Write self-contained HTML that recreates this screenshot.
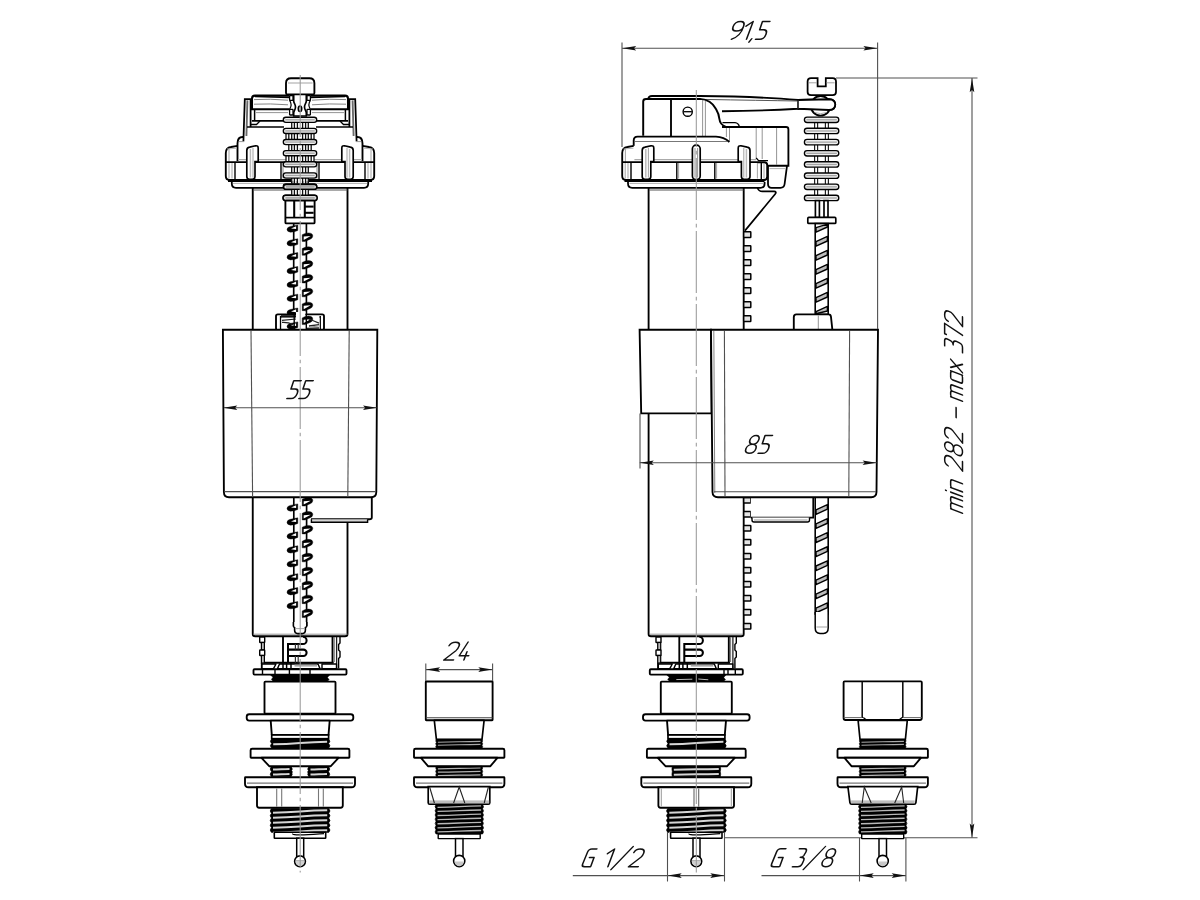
<!DOCTYPE html>
<html><head><meta charset="utf-8"><title>drawing</title>
<style>
html,body{margin:0;padding:0;background:#fff;font-family:"Liberation Sans",sans-serif;}
svg{display:block}
</style></head><body>
<svg width="1200" height="900" viewBox="0 0 1200 900">
<rect width="1200" height="900" fill="#fff"/>
<path d="M252.75,188L252.75,634Q252.75,636.3 255.2,636.3L345,636.3Q347.5,636.3 347.5,634L347.5,188" stroke="#000" stroke-width="1.86" fill="#fff" />
<path d="M253,634.2L347.5,634.2" stroke="#888" stroke-width="0.9" fill="none" />
<path d="M253,190L347.5,190" stroke="#555" stroke-width="1" fill="none" />
<path d="M243.4,141.5L244.8,99.2L250.6,99.2L250.6,127" stroke="#000" stroke-width="1.77" fill="none" />
<path d="M247.4,100.4L246.4,136" stroke="#6a6a6a" stroke-width="1.86" fill="none" />
<path d="M356.6,141.5L355.2,99.2L349.4,99.2L349.4,127" stroke="#000" stroke-width="1.77" fill="none" />
<path d="M352.6,100.4L353.6,136" stroke="#6a6a6a" stroke-width="1.86" fill="none" />
<path d="M289.5,95.6L255,95.6Q252,95.6 252,98.6L252,109.2L289.5,109.2" stroke="#000" stroke-width="2.05" fill="#fff" />
<path d="M310.5,95.6L345,95.6Q348,95.6 348,98.6L348,109.2L310.5,109.2" stroke="#000" stroke-width="2.05" fill="#fff" />
<path d="M255,96.6L290,97.4" stroke="#000" stroke-width="1.49" fill="none" />
<path d="M345,96.6L310,97.4" stroke="#000" stroke-width="1.49" fill="none" />
<path d="M254,99.6Q270,98.6 288,100.2" stroke="#777" stroke-width="0.9" fill="none" />
<path d="M346,99.6Q330,98.6 312,100.2" stroke="#777" stroke-width="0.9" fill="none" />
<path d="M254,104.2Q270,103.4 288,104.8" stroke="#777" stroke-width="0.9" fill="none" />
<path d="M346,104.2Q330,103.4 312,104.8" stroke="#777" stroke-width="0.9" fill="none" />
<path d="M254.6,110L254.6,121" stroke="#000" stroke-width="1.49" fill="none" />
<path d="M345.4,110L345.4,121" stroke="#000" stroke-width="1.49" fill="none" />
<path d="M256,112.6L288,112.6" stroke="#888" stroke-width="0.9" fill="none" />
<path d="M344,112.6L312,112.6" stroke="#888" stroke-width="0.9" fill="none" />
<path d="M252,120.8L286,120.8" stroke="#000" stroke-width="1.67" fill="none" />
<path d="M348,120.8L314,120.8" stroke="#000" stroke-width="1.67" fill="none" />
<path d="M247,127L284,127" stroke="#000" stroke-width="1.67" fill="none" />
<path d="M353,127L316,127" stroke="#000" stroke-width="1.67" fill="none" />
<path d="M251,124.5L256.5,124.5L260,121" stroke="#000" stroke-width="1.3" fill="none" />
<path d="M349,124.5L343.5,124.5L340,121" stroke="#000" stroke-width="1.3" fill="none" />
<path d="M293.7,94.5L293.7,101C293.7,103.5 295.5,104 295.5,107C295.5,110 293.7,110.5 293.7,113L293.7,116L306.3,116L306.3,113C306.3,110.5 304.5,110 304.5,107C304.5,104 306.3,103.5 306.3,101L306.3,94.5" stroke="#000" stroke-width="1.67" fill="#fff" />
<rect x="289.6" y="95.6" width="3.4" height="4.8" rx="0.5" stroke="#000" stroke-width="1.3" fill="#fff"/>
<rect x="307" y="95.6" width="3.4" height="4.8" rx="0.5" stroke="#000" stroke-width="1.3" fill="#fff"/>
<rect x="289.6" y="109.4" width="3.4" height="5.6" rx="0.5" stroke="#000" stroke-width="1.3" fill="#fff"/>
<rect x="307" y="109.4" width="3.4" height="5.6" rx="0.5" stroke="#000" stroke-width="1.3" fill="#fff"/>
<path d="M289.6,100.4Q292.6,104.6 289.6,109.4" stroke="#000" stroke-width="1.2" fill="none" />
<path d="M310.4,100.4Q307.4,104.6 310.4,109.4" stroke="#000" stroke-width="1.2" fill="none" />
<ellipse cx="300" cy="108.8" rx="1.7" ry="2.7" fill="#ddd" stroke="#000" stroke-width="1.6"/>
<path d="M291,78.2L309.4,78.2Q314.4,78.2 314.4,83.2L314.4,92.9Q314.4,94.4 312.9,94.4L287.5,94.4Q286,94.4 286,92.9L286,83.2Q286,78.2 291,78.2Z" stroke="#000" stroke-width="1.86" fill="#fff" />
<path d="M288,83L312.5,83" stroke="#999" stroke-width="0.9" fill="none" />
<path d="M237.5,145.8L231,147Q225.8,147.8 225.8,153L225.8,176Q225.8,180 229.5,180L370.5,180Q374.2,180 374.2,176L374.2,153Q374.2,147.8 369,147L362.5,145.8" stroke="#000" stroke-width="1.86" fill="#fff" />
<path d="M237.5,161L237.5,143.5Q237.5,137 242.6,137L243.6,137" stroke="#000" stroke-width="1.86" fill="none" />
<path d="M362.5,161L362.5,143.5Q362.5,137 357.4,137L356.4,137" stroke="#000" stroke-width="1.86" fill="none" />
<path d="M229,149L229,162" stroke="#999" stroke-width="0.9" fill="none" />
<path d="M371,149L371,162" stroke="#999" stroke-width="0.9" fill="none" />
<path d="M239,141.6L244,141.6" stroke="#999" stroke-width="1" fill="none" />
<path d="M361,141.6L356,141.6" stroke="#999" stroke-width="1" fill="none" />
<path d="M227,149L237,148.2" stroke="#aaa" stroke-width="0.9" fill="none" />
<path d="M373,149L363,148.2" stroke="#aaa" stroke-width="0.9" fill="none" />
<path d="M226,162.2L374,162.2" stroke="#000" stroke-width="1.67" fill="none" />
<path d="M238,159.6L362,159.6" stroke="#aaa" stroke-width="1.2" fill="none" />
<path d="M235,162.2L235,179.5" stroke="#000" stroke-width="1.4" fill="none" />
<path d="M281,162.2L281,179.5" stroke="#000" stroke-width="1.4" fill="none" />
<path d="M319,162.2L319,179.5" stroke="#000" stroke-width="1.4" fill="none" />
<path d="M365,162.2L365,179.5" stroke="#000" stroke-width="1.4" fill="none" />
<path d="M229,163L229,178.5" stroke="#999" stroke-width="0.9" fill="none" />
<path d="M232,163L232,178.5" stroke="#999" stroke-width="0.9" fill="none" />
<path d="M368,163L368,178.5" stroke="#999" stroke-width="0.9" fill="none" />
<path d="M371,163L371,178.5" stroke="#999" stroke-width="0.9" fill="none" />
<path d="M283,163L283,178.5" stroke="#aaa" stroke-width="1.4" fill="none" />
<path d="M317,163L317,178.5" stroke="#aaa" stroke-width="1.4" fill="none" />
<path d="M246.8,176.5L246.8,150.5Q246.8,147.6 249.6,147.1L255.5,145.8Q258.2,145.4 258.2,148.2L258.2,161.5L255,161.5L255,176.5Q255,179.3 252.2,179.3L249.6,179.3Q246.8,179.3 246.8,176.5Z" stroke="#000" stroke-width="1.67" fill="#fff" />
<path d="M250.4,149L250.4,177.5" stroke="#bbb" stroke-width="1.49" fill="none" />
<path d="M253,148L253,177.5" stroke="#999" stroke-width="0.9" fill="none" />
<path d="M353.2,176.5L353.2,150.5Q353.2,147.6 350.4,147.1L344.5,145.8Q341.8,145.4 341.8,148.2L341.8,161.5L345,161.5L345,176.5Q345,179.3 347.8,179.3L350.4,179.3Q353.2,179.3 353.2,176.5Z" stroke="#000" stroke-width="1.67" fill="#fff" />
<path d="M349.6,149L349.6,177.5" stroke="#bbb" stroke-width="1.49" fill="none" />
<path d="M347,148L347,177.5" stroke="#999" stroke-width="0.9" fill="none" />
<path d="M228,181L372,181" stroke="#000" stroke-width="1.86" fill="none" />
<path d="M231.8,182L231.8,183.5Q231.8,187.8 236,187.8L364,187.8Q368.2,187.8 368.2,183.5L368.2,182" stroke="#000" stroke-width="1.77" fill="#fff" />
<path d="M233,183.4L367,183.4" stroke="#999" stroke-width="0.8" fill="none" />
<rect x="291.7" y="122.2" width="16.6" height="6.33" fill="#fff"/>
<path d="M291.7,122.2L291.7,128.53" stroke="#111" stroke-width="1.3" fill="none" />
<path d="M294.4,122.2L294.4,128.53" stroke="#111" stroke-width="1.3" fill="none" />
<path d="M297.4,122.2L297.4,128.53" stroke="#111" stroke-width="1.3" fill="none" />
<path d="M302.6,122.2L302.6,128.53" stroke="#111" stroke-width="1.3" fill="none" />
<path d="M305.6,122.2L305.6,128.53" stroke="#111" stroke-width="1.3" fill="none" />
<path d="M308.3,122.2L308.3,128.53" stroke="#111" stroke-width="1.3" fill="none" />
<rect x="286" y="133.33" width="28" height="6.33" fill="#fff"/>
<path d="M286,133.33L286,139.66" stroke="#111" stroke-width="1.3" fill="none" />
<path d="M288.8,133.33L288.8,139.66" stroke="#111" stroke-width="1.3" fill="none" />
<path d="M291.7,133.33L291.7,139.66" stroke="#111" stroke-width="1.3" fill="none" />
<path d="M294.4,133.33L294.4,139.66" stroke="#111" stroke-width="1.3" fill="none" />
<path d="M297.4,133.33L297.4,139.66" stroke="#111" stroke-width="1.3" fill="none" />
<path d="M302.6,133.33L302.6,139.66" stroke="#111" stroke-width="1.3" fill="none" />
<path d="M305.6,133.33L305.6,139.66" stroke="#111" stroke-width="1.3" fill="none" />
<path d="M308.3,133.33L308.3,139.66" stroke="#111" stroke-width="1.3" fill="none" />
<path d="M311.2,133.33L311.2,139.66" stroke="#111" stroke-width="1.3" fill="none" />
<path d="M314,133.33L314,139.66" stroke="#111" stroke-width="1.3" fill="none" />
<rect x="288.8" y="144.46" width="22.4" height="6.33" fill="#fff"/>
<path d="M288.8,144.46L288.8,150.79" stroke="#111" stroke-width="1.3" fill="none" />
<path d="M291.7,144.46L291.7,150.79" stroke="#111" stroke-width="1.3" fill="none" />
<path d="M294.4,144.46L294.4,150.79" stroke="#111" stroke-width="1.3" fill="none" />
<path d="M297.4,144.46L297.4,150.79" stroke="#111" stroke-width="1.3" fill="none" />
<path d="M302.6,144.46L302.6,150.79" stroke="#111" stroke-width="1.3" fill="none" />
<path d="M305.6,144.46L305.6,150.79" stroke="#111" stroke-width="1.3" fill="none" />
<path d="M308.3,144.46L308.3,150.79" stroke="#111" stroke-width="1.3" fill="none" />
<path d="M311.2,144.46L311.2,150.79" stroke="#111" stroke-width="1.3" fill="none" />
<rect x="286" y="155.59" width="28" height="6.33" fill="#fff"/>
<path d="M286,155.59L286,161.92" stroke="#111" stroke-width="1.3" fill="none" />
<path d="M288.8,155.59L288.8,161.92" stroke="#111" stroke-width="1.3" fill="none" />
<path d="M291.7,155.59L291.7,161.92" stroke="#111" stroke-width="1.3" fill="none" />
<path d="M294.4,155.59L294.4,161.92" stroke="#111" stroke-width="1.3" fill="none" />
<path d="M297.4,155.59L297.4,161.92" stroke="#111" stroke-width="1.3" fill="none" />
<path d="M302.6,155.59L302.6,161.92" stroke="#111" stroke-width="1.3" fill="none" />
<path d="M305.6,155.59L305.6,161.92" stroke="#111" stroke-width="1.3" fill="none" />
<path d="M308.3,155.59L308.3,161.92" stroke="#111" stroke-width="1.3" fill="none" />
<path d="M311.2,155.59L311.2,161.92" stroke="#111" stroke-width="1.3" fill="none" />
<path d="M314,155.59L314,161.92" stroke="#111" stroke-width="1.3" fill="none" />
<rect x="291.7" y="166.72" width="16.6" height="6.33" fill="#fff"/>
<path d="M291.7,166.72L291.7,173.05" stroke="#111" stroke-width="1.3" fill="none" />
<path d="M294.4,166.72L294.4,173.05" stroke="#111" stroke-width="1.3" fill="none" />
<path d="M297.4,166.72L297.4,173.05" stroke="#111" stroke-width="1.3" fill="none" />
<path d="M302.6,166.72L302.6,173.05" stroke="#111" stroke-width="1.3" fill="none" />
<path d="M305.6,166.72L305.6,173.05" stroke="#111" stroke-width="1.3" fill="none" />
<path d="M308.3,166.72L308.3,173.05" stroke="#111" stroke-width="1.3" fill="none" />
<rect x="291.7" y="177.85" width="16.6" height="6.33" fill="#fff"/>
<path d="M291.7,177.85L291.7,184.18" stroke="#111" stroke-width="1.3" fill="none" />
<path d="M294.4,177.85L294.4,184.18" stroke="#111" stroke-width="1.3" fill="none" />
<path d="M297.4,177.85L297.4,184.18" stroke="#111" stroke-width="1.3" fill="none" />
<path d="M302.6,177.85L302.6,184.18" stroke="#111" stroke-width="1.3" fill="none" />
<path d="M305.6,177.85L305.6,184.18" stroke="#111" stroke-width="1.3" fill="none" />
<path d="M308.3,177.85L308.3,184.18" stroke="#111" stroke-width="1.3" fill="none" />
<rect x="291.7" y="188.98" width="16.6" height="6.33" fill="#fff"/>
<path d="M291.7,188.98L291.7,195.31" stroke="#111" stroke-width="1.3" fill="none" />
<path d="M294.4,188.98L294.4,195.31" stroke="#111" stroke-width="1.3" fill="none" />
<path d="M297.4,188.98L297.4,195.31" stroke="#111" stroke-width="1.3" fill="none" />
<path d="M302.6,188.98L302.6,195.31" stroke="#111" stroke-width="1.3" fill="none" />
<path d="M305.6,188.98L305.6,195.31" stroke="#111" stroke-width="1.3" fill="none" />
<path d="M308.3,188.98L308.3,195.31" stroke="#111" stroke-width="1.3" fill="none" />
<rect x="283.3" y="117.2" width="33.4" height="5.2" rx="2.6" stroke="#000" stroke-width="1.35" fill="#efefef"/>
<path d="M285.3,119.8L314.7,119.8" stroke="#a4a4a4" stroke-width="1.3" fill="none" />
<rect x="283.3" y="128.33" width="33.4" height="5.2" rx="2.6" stroke="#000" stroke-width="1.35" fill="#efefef"/>
<path d="M285.3,130.93L314.7,130.93" stroke="#a4a4a4" stroke-width="1.3" fill="none" />
<rect x="283.3" y="139.46" width="33.4" height="5.2" rx="2.6" stroke="#000" stroke-width="1.35" fill="#efefef"/>
<path d="M285.3,142.06L314.7,142.06" stroke="#a4a4a4" stroke-width="1.3" fill="none" />
<rect x="283.3" y="150.59" width="33.4" height="5.2" rx="2.6" stroke="#000" stroke-width="1.35" fill="#efefef"/>
<path d="M285.3,153.19L314.7,153.19" stroke="#a4a4a4" stroke-width="1.3" fill="none" />
<rect x="283.3" y="161.72" width="33.4" height="5.2" rx="2.6" stroke="#000" stroke-width="1.35" fill="#efefef"/>
<path d="M285.3,164.32L314.7,164.32" stroke="#a4a4a4" stroke-width="1.3" fill="none" />
<rect x="283.3" y="172.85" width="33.4" height="5.2" rx="2.6" stroke="#000" stroke-width="1.35" fill="#efefef"/>
<path d="M285.3,175.45L314.7,175.45" stroke="#a4a4a4" stroke-width="1.3" fill="none" />
<rect x="283.3" y="183.98" width="33.4" height="5.2" rx="2.6" stroke="#000" stroke-width="1.35" fill="#efefef"/>
<path d="M285.3,186.58L314.7,186.58" stroke="#a4a4a4" stroke-width="1.3" fill="none" />
<rect x="283.3" y="195.11" width="33.4" height="5.2" rx="2.6" stroke="#000" stroke-width="1.35" fill="#efefef"/>
<path d="M285.3,197.71L314.7,197.71" stroke="#a4a4a4" stroke-width="1.3" fill="none" />
<rect x="291" y="189" width="18" height="7" fill="#fff"/>
<path d="M291.7,189L291.7,196" stroke="#111" stroke-width="1.3" fill="none" />
<path d="M291.7,181L291.7,185" stroke="#111" stroke-width="1.3" fill="none" />
<path d="M294.4,189L294.4,196" stroke="#111" stroke-width="1.3" fill="none" />
<path d="M294.4,181L294.4,185" stroke="#111" stroke-width="1.3" fill="none" />
<path d="M297.4,189L297.4,196" stroke="#111" stroke-width="1.3" fill="none" />
<path d="M297.4,181L297.4,185" stroke="#111" stroke-width="1.3" fill="none" />
<path d="M302.6,189L302.6,196" stroke="#111" stroke-width="1.3" fill="none" />
<path d="M302.6,181L302.6,185" stroke="#111" stroke-width="1.3" fill="none" />
<path d="M305.6,189L305.6,196" stroke="#111" stroke-width="1.3" fill="none" />
<path d="M305.6,181L305.6,185" stroke="#111" stroke-width="1.3" fill="none" />
<path d="M308.3,189L308.3,196" stroke="#111" stroke-width="1.3" fill="none" />
<path d="M308.3,181L308.3,185" stroke="#111" stroke-width="1.3" fill="none" />
<rect x="283.6" y="184.4" width="33.2" height="4.9" rx="2.4" stroke="#000" stroke-width="1.49" fill="#dcdcdc"/>
<path d="M286,186.9L314.5,186.9" stroke="#9a9a9a" stroke-width="1.3" fill="none" />
<rect x="283" y="195.2" width="34.2" height="5.4" rx="2.6" stroke="#000" stroke-width="1.58" fill="#dcdcdc"/>
<path d="M285.5,197.9L314.7,197.9" stroke="#9a9a9a" stroke-width="1.3" fill="none" />
<rect x="285.4" y="200.6" width="29.2" height="22.8" rx="1" stroke="#000" stroke-width="1.86" fill="#fff"/>
<path d="M285.4,217.6L314.6,217.6" stroke="#000" stroke-width="1.67" fill="none" />
<path d="M294.2,201L294.2,217" stroke="#000" stroke-width="2.05" fill="none" />
<path d="M304.8,201L304.8,217" stroke="#000" stroke-width="2.05" fill="none" />
<path d="M304.6,206.6L313.6,206.6" stroke="#000" stroke-width="2.05" fill="none" />
<path d="M304.6,212.8L313.6,212.8" stroke="#000" stroke-width="2.05" fill="none" />
<path d="M293.7,224L293.7,314" stroke="#000" stroke-width="1.67" fill="none" />
<path d="M306.4,224L306.4,314" stroke="#000" stroke-width="1.67" fill="none" />
<path d="M297.8,224.9 L297.8,230.5 Q294.3,232.2 290.5,232.2 Q287,231.8 287,229.6 Q287,227.2 290.3,226.4 Q294.3,225.4 297.8,224.9 Z" fill="#000" stroke="#000" stroke-width="0.4" stroke-linejoin="round"/>
<path d="M291,228.5 L296.1,226.2 L296.1,229.1 Z" fill="#fff" stroke="none"/>
<path d="M297.8,238.75 L297.8,244.35 Q294.3,246.05 290.5,246.05 Q287,245.65 287,243.45 Q287,241.05 290.3,240.25 Q294.3,239.25 297.8,238.75 Z" fill="#000" stroke="#000" stroke-width="0.4" stroke-linejoin="round"/>
<path d="M291,242.35 L296.1,240.05 L296.1,242.95 Z" fill="#fff" stroke="none"/>
<path d="M297.8,252.6 L297.8,258.2 Q294.3,259.9 290.5,259.9 Q287,259.5 287,257.3 Q287,254.9 290.3,254.1 Q294.3,253.1 297.8,252.6 Z" fill="#000" stroke="#000" stroke-width="0.4" stroke-linejoin="round"/>
<path d="M291,256.2 L296.1,253.9 L296.1,256.8 Z" fill="#fff" stroke="none"/>
<path d="M297.8,266.45 L297.8,272.05 Q294.3,273.75 290.5,273.75 Q287,273.35 287,271.15 Q287,268.75 290.3,267.95 Q294.3,266.95 297.8,266.45 Z" fill="#000" stroke="#000" stroke-width="0.4" stroke-linejoin="round"/>
<path d="M291,270.05 L296.1,267.75 L296.1,270.65 Z" fill="#fff" stroke="none"/>
<path d="M297.8,280.3 L297.8,285.9 Q294.3,287.6 290.5,287.6 Q287,287.2 287,285 Q287,282.6 290.3,281.8 Q294.3,280.8 297.8,280.3 Z" fill="#000" stroke="#000" stroke-width="0.4" stroke-linejoin="round"/>
<path d="M291,283.9 L296.1,281.6 L296.1,284.5 Z" fill="#fff" stroke="none"/>
<path d="M297.8,294.15 L297.8,299.75 Q294.3,301.45 290.5,301.45 Q287,301.05 287,298.85 Q287,296.45 290.3,295.65 Q294.3,294.65 297.8,294.15 Z" fill="#000" stroke="#000" stroke-width="0.4" stroke-linejoin="round"/>
<path d="M291,297.75 L296.1,295.45 L296.1,298.35 Z" fill="#fff" stroke="none"/>
<path d="M297.8,308 L297.8,313.6 Q294.3,315.3 290.5,315.3 Q287,314.9 287,312.7 Q287,310.3 290.3,309.5 Q294.3,308.5 297.8,308 Z" fill="#000" stroke="#000" stroke-width="0.4" stroke-linejoin="round"/>
<path d="M291,311.6 L296.1,309.3 L296.1,312.2 Z" fill="#fff" stroke="none"/>
<path d="M302.2,234.7 Q305.2,232.9 308.3,232.9 Q312.8,233 312.8,236.1 Q312.6,238.3 310.2,239.2 L305,241.4 L302.2,241.4 Z" fill="#000" stroke="#000" stroke-width="0.4" stroke-linejoin="round"/>
<path d="M303.7,236.6 L303.7,239.9 L310.7,236.1 Z" fill="#fff" stroke="none"/>
<path d="M302.2,248.55 Q305.2,246.75 308.3,246.75 Q312.8,246.85 312.8,249.95 Q312.6,252.15 310.2,253.05 L305,255.25 L302.2,255.25 Z" fill="#000" stroke="#000" stroke-width="0.4" stroke-linejoin="round"/>
<path d="M303.7,250.45 L303.7,253.75 L310.7,249.95 Z" fill="#fff" stroke="none"/>
<path d="M302.2,262.4 Q305.2,260.6 308.3,260.6 Q312.8,260.7 312.8,263.8 Q312.6,266 310.2,266.9 L305,269.1 L302.2,269.1 Z" fill="#000" stroke="#000" stroke-width="0.4" stroke-linejoin="round"/>
<path d="M303.7,264.3 L303.7,267.6 L310.7,263.8 Z" fill="#fff" stroke="none"/>
<path d="M302.2,276.25 Q305.2,274.45 308.3,274.45 Q312.8,274.55 312.8,277.65 Q312.6,279.85 310.2,280.75 L305,282.95 L302.2,282.95 Z" fill="#000" stroke="#000" stroke-width="0.4" stroke-linejoin="round"/>
<path d="M303.7,278.15 L303.7,281.45 L310.7,277.65 Z" fill="#fff" stroke="none"/>
<path d="M302.2,290.1 Q305.2,288.3 308.3,288.3 Q312.8,288.4 312.8,291.5 Q312.6,293.7 310.2,294.6 L305,296.8 L302.2,296.8 Z" fill="#000" stroke="#000" stroke-width="0.4" stroke-linejoin="round"/>
<path d="M303.7,292 L303.7,295.3 L310.7,291.5 Z" fill="#fff" stroke="none"/>
<path d="M302.2,303.95 Q305.2,302.15 308.3,302.15 Q312.8,302.25 312.8,305.35 Q312.6,307.55 310.2,308.45 L305,310.65 L302.2,310.65 Z" fill="#000" stroke="#000" stroke-width="0.4" stroke-linejoin="round"/>
<path d="M303.7,305.85 L303.7,309.15 L310.7,305.35 Z" fill="#fff" stroke="none"/>
<rect x="276" y="314.4" width="48" height="15.6" rx="1.8" stroke="#000" stroke-width="1.86" fill="#fff"/>
<rect x="296" y="312" width="9.4" height="5" fill="#fff"/>
<path d="M280.6,316L280.6,330" stroke="#000" stroke-width="1.49" fill="none" />
<path d="M320.2,316L320.2,330" stroke="#000" stroke-width="1.49" fill="none" />
<rect x="281.5" y="318" width="38" height="11" fill="#fff"/>
<path d="M297.8,321.9 L297.8,327.5 Q294.3,329.2 290.5,329.2 Q287,328.8 287,326.6 Q287,324.2 290.3,323.4 Q294.3,322.4 297.8,321.9 Z" fill="#000" stroke="#000" stroke-width="0.4" stroke-linejoin="round"/>
<path d="M291,325.5 L296.1,323.2 L296.1,326.1 Z" fill="#fff" stroke="none"/>
<path d="M302.2,317.9 Q305.2,316.1 308.3,316.1 Q312.8,316.2 312.8,319.3 Q312.6,321.5 310.2,322.4 L305,324.6 L302.2,324.6 Z" fill="#000" stroke="#000" stroke-width="0.4" stroke-linejoin="round"/>
<path d="M303.7,319.8 L303.7,323.1 L310.7,319.3 Z" fill="#fff" stroke="none"/>
<path d="M281,316.4L296,316.4" stroke="#111" stroke-width="2.42" fill="none" />
<path d="M282,320.4L296,319M282,322.4Q288,322 293,324.6" stroke="#222" stroke-width="1.2" fill="none" />
<path d="M309,319Q314,321 319,323.2M309,326L319,324.6M306,328.4L319,328" stroke="#222" stroke-width="1.3" fill="none" />
<path d="M310,327L318.6,326" stroke="#999" stroke-width="1.2" fill="none" />
<path d="M294.2,314L294.2,330" stroke="#000" stroke-width="1.4" fill="none" />
<path d="M306.3,314L306.3,330" stroke="#000" stroke-width="1.4" fill="none" />
<path d="M348,497L371.8,497L371.8,517.6Q371.8,519.2 370,519.2L311,519.2" stroke="#000" stroke-width="1.86" fill="#fff" />
<path d="M311.4,519.2L311.4,522.3L367.6,522.3L367.6,519.2" stroke="#000" stroke-width="1.4" fill="#d4d4d4" />
<path d="M293.8,497L293.8,626" stroke="#000" stroke-width="1.67" fill="none" />
<path d="M306.6,497L306.6,626" stroke="#000" stroke-width="1.67" fill="none" />
<path d="M297.8,503.9 L297.8,509.5 Q294.3,511.2 290.5,511.2 Q287,510.8 287,508.6 Q287,506.2 290.3,505.4 Q294.3,504.4 297.8,503.9 Z" fill="#000" stroke="#000" stroke-width="0.4" stroke-linejoin="round"/>
<path d="M291,507.5 L296.1,505.2 L296.1,508.1 Z" fill="#fff" stroke="none"/>
<path d="M297.8,517.85 L297.8,523.45 Q294.3,525.15 290.5,525.15 Q287,524.75 287,522.55 Q287,520.15 290.3,519.35 Q294.3,518.35 297.8,517.85 Z" fill="#000" stroke="#000" stroke-width="0.4" stroke-linejoin="round"/>
<path d="M291,521.45 L296.1,519.15 L296.1,522.05 Z" fill="#fff" stroke="none"/>
<path d="M297.8,531.8 L297.8,537.4 Q294.3,539.1 290.5,539.1 Q287,538.7 287,536.5 Q287,534.1 290.3,533.3 Q294.3,532.3 297.8,531.8 Z" fill="#000" stroke="#000" stroke-width="0.4" stroke-linejoin="round"/>
<path d="M291,535.4 L296.1,533.1 L296.1,536 Z" fill="#fff" stroke="none"/>
<path d="M297.8,545.75 L297.8,551.35 Q294.3,553.05 290.5,553.05 Q287,552.65 287,550.45 Q287,548.05 290.3,547.25 Q294.3,546.25 297.8,545.75 Z" fill="#000" stroke="#000" stroke-width="0.4" stroke-linejoin="round"/>
<path d="M291,549.35 L296.1,547.05 L296.1,549.95 Z" fill="#fff" stroke="none"/>
<path d="M297.8,559.7 L297.8,565.3 Q294.3,567 290.5,567 Q287,566.6 287,564.4 Q287,562 290.3,561.2 Q294.3,560.2 297.8,559.7 Z" fill="#000" stroke="#000" stroke-width="0.4" stroke-linejoin="round"/>
<path d="M291,563.3 L296.1,561 L296.1,563.9 Z" fill="#fff" stroke="none"/>
<path d="M297.8,573.65 L297.8,579.25 Q294.3,580.95 290.5,580.95 Q287,580.55 287,578.35 Q287,575.95 290.3,575.15 Q294.3,574.15 297.8,573.65 Z" fill="#000" stroke="#000" stroke-width="0.4" stroke-linejoin="round"/>
<path d="M291,577.25 L296.1,574.95 L296.1,577.85 Z" fill="#fff" stroke="none"/>
<path d="M297.8,587.6 L297.8,593.2 Q294.3,594.9 290.5,594.9 Q287,594.5 287,592.3 Q287,589.9 290.3,589.1 Q294.3,588.1 297.8,587.6 Z" fill="#000" stroke="#000" stroke-width="0.4" stroke-linejoin="round"/>
<path d="M291,591.2 L296.1,588.9 L296.1,591.8 Z" fill="#fff" stroke="none"/>
<path d="M297.8,601.55 L297.8,607.15 Q294.3,608.85 290.5,608.85 Q287,608.45 287,606.25 Q287,603.85 290.3,603.05 Q294.3,602.05 297.8,601.55 Z" fill="#000" stroke="#000" stroke-width="0.4" stroke-linejoin="round"/>
<path d="M291,605.15 L296.1,602.85 L296.1,605.75 Z" fill="#fff" stroke="none"/>
<path d="M302.2,499.3 Q305.2,497.5 308.3,497.5 Q312.8,497.6 312.8,500.7 Q312.6,502.9 310.2,503.8 L305,506 L302.2,506 Z" fill="#000" stroke="#000" stroke-width="0.4" stroke-linejoin="round"/>
<path d="M303.7,501.2 L303.7,504.5 L310.7,500.7 Z" fill="#fff" stroke="none"/>
<path d="M302.2,513.25 Q305.2,511.45 308.3,511.45 Q312.8,511.55 312.8,514.65 Q312.6,516.85 310.2,517.75 L305,519.95 L302.2,519.95 Z" fill="#000" stroke="#000" stroke-width="0.4" stroke-linejoin="round"/>
<path d="M303.7,515.15 L303.7,518.45 L310.7,514.65 Z" fill="#fff" stroke="none"/>
<path d="M302.2,527.2 Q305.2,525.4 308.3,525.4 Q312.8,525.5 312.8,528.6 Q312.6,530.8 310.2,531.7 L305,533.9 L302.2,533.9 Z" fill="#000" stroke="#000" stroke-width="0.4" stroke-linejoin="round"/>
<path d="M303.7,529.1 L303.7,532.4 L310.7,528.6 Z" fill="#fff" stroke="none"/>
<path d="M302.2,541.15 Q305.2,539.35 308.3,539.35 Q312.8,539.45 312.8,542.55 Q312.6,544.75 310.2,545.65 L305,547.85 L302.2,547.85 Z" fill="#000" stroke="#000" stroke-width="0.4" stroke-linejoin="round"/>
<path d="M303.7,543.05 L303.7,546.35 L310.7,542.55 Z" fill="#fff" stroke="none"/>
<path d="M302.2,555.1 Q305.2,553.3 308.3,553.3 Q312.8,553.4 312.8,556.5 Q312.6,558.7 310.2,559.6 L305,561.8 L302.2,561.8 Z" fill="#000" stroke="#000" stroke-width="0.4" stroke-linejoin="round"/>
<path d="M303.7,557 L303.7,560.3 L310.7,556.5 Z" fill="#fff" stroke="none"/>
<path d="M302.2,569.05 Q305.2,567.25 308.3,567.25 Q312.8,567.35 312.8,570.45 Q312.6,572.65 310.2,573.55 L305,575.75 L302.2,575.75 Z" fill="#000" stroke="#000" stroke-width="0.4" stroke-linejoin="round"/>
<path d="M303.7,570.95 L303.7,574.25 L310.7,570.45 Z" fill="#fff" stroke="none"/>
<path d="M302.2,583 Q305.2,581.2 308.3,581.2 Q312.8,581.3 312.8,584.4 Q312.6,586.6 310.2,587.5 L305,589.7 L302.2,589.7 Z" fill="#000" stroke="#000" stroke-width="0.4" stroke-linejoin="round"/>
<path d="M303.7,584.9 L303.7,588.2 L310.7,584.4 Z" fill="#fff" stroke="none"/>
<path d="M302.2,596.95 Q305.2,595.15 308.3,595.15 Q312.8,595.25 312.8,598.35 Q312.6,600.55 310.2,601.45 L305,603.65 L302.2,603.65 Z" fill="#000" stroke="#000" stroke-width="0.4" stroke-linejoin="round"/>
<path d="M303.7,598.85 L303.7,602.15 L310.7,598.35 Z" fill="#fff" stroke="none"/>
<path d="M302.2,610.9 Q305.2,609.1 308.3,609.1 Q312.8,609.2 312.8,612.3 Q312.6,614.5 310.2,615.4 L305,617.6 L302.2,617.6 Z" fill="#000" stroke="#000" stroke-width="0.4" stroke-linejoin="round"/>
<path d="M303.7,612.8 L303.7,616.1 L310.7,612.3 Z" fill="#fff" stroke="none"/>
<path d="M293.4,622L293.4,626Q293.4,627 294.6,627.6L294.6,630Q294.6,633.6 298,633.6L302,633.6Q305.4,633.6 305.4,630L305.4,627.6Q306.8,627 306.8,626L306.8,622" stroke="#000" stroke-width="1.58" fill="#fff" />
<path d="M295.5,628.6L304.5,628.6" stroke="#999" stroke-width="0.9" fill="none" />
<path d="M222.9,329.8L377.3,329.8L376.3,492Q376.2,497.3 371,497.3L229,497.3Q223.9,497.3 223.9,492Z" stroke="#000" stroke-width="1.86" fill="#fff" />
<path d="M224.5,491.6L376,491.6" stroke="#505050" stroke-width="1.1" fill="none" />
<path d="M251,331L252.6,497" stroke="#505050" stroke-width="1.1" fill="none" />
<path d="M349.2,331L347.8,497" stroke="#505050" stroke-width="1.1" fill="none" />
<rect x="259.7" y="637" width="5" height="5.5" rx="0.5" stroke="#000" stroke-width="1.4" fill="#fff"/>
<rect x="261.4" y="642.5" width="3" height="7.5" rx="0" stroke="#000" stroke-width="1.2" fill="#bbb"/>
<rect x="259.7" y="650" width="5" height="5.5" rx="0.5" stroke="#000" stroke-width="1.4" fill="#fff"/>
<rect x="261.4" y="655.5" width="3" height="7.5" rx="0" stroke="#000" stroke-width="1.2" fill="#bbb"/>
<path d="M261.6,663L261.6,669" stroke="#000" stroke-width="1.49" fill="none" />
<path d="M334.3,637L334.3,662" stroke="#777" stroke-width="1" fill="none" />
<path d="M336.6,637L336.6,669" stroke="#222" stroke-width="1.3" fill="none" />
<path d="M340,637L340,643L338.6,644.5L338.6,650L340,651.5L340,657L338.6,658.5L338.6,668.5" stroke="#000" stroke-width="1.4" fill="none" />
<path d="M283,636L283,663" stroke="#000" stroke-width="1.86" fill="none" />
<path d="M332.5,636L332.5,663" stroke="#000" stroke-width="1.86" fill="none" />
<path d="M264,662.7L333.5,662.7" stroke="#000" stroke-width="1.86" fill="none" />
<path d="M288,643L288,663" stroke="#000" stroke-width="2.05" fill="none" />
<path d="M288,644L303,644A3.6,3.6 0 0 0 303,636.8" stroke="#000" stroke-width="2.05" fill="none" />
<path d="M288,649.6L303.4,649.6A3.2,3.2 0 0 1 303.4,656L288,656" stroke="#000" stroke-width="2.05" fill="none" />
<path d="M295.4,644L295.4,649.6" stroke="#333" stroke-width="1.2" fill="none" />
<path d="M295.4,656L295.4,662.7" stroke="#333" stroke-width="1.2" fill="none" />
<path d="M298.2,644L298.2,649.6" stroke="#333" stroke-width="1.2" fill="none" />
<path d="M298.2,656L298.2,662.7" stroke="#333" stroke-width="1.2" fill="none" />
<path d="M262,664L276,664L273.5,668.6L262,668.6Z" stroke="#000" stroke-width="1.4" fill="#fff" stroke-linejoin="round"/>
<path d="M279.5,664L318,664L320,668.6L277.5,668.6Z" stroke="#000" stroke-width="1.4" fill="#fff" stroke-linejoin="round"/>
<rect x="294.5" y="664.6" width="22.5" height="2" rx="0" stroke="#000" stroke-width="0" fill="#a8a8a8"/>
<path d="M283,663L283,668.6" stroke="#000" stroke-width="1.49" fill="none" />
<path d="M286.6,663L286.6,668.6" stroke="#000" stroke-width="1.49" fill="none" />
<path d="M291,663L291,668.6" stroke="#000" stroke-width="1.49" fill="none" />
<path d="M322,664L336.5,664L336.5,668.6L322,668.6Z" stroke="#000" stroke-width="1.4" fill="#fff" stroke-linejoin="round"/>
<rect x="253.5" y="669.3" width="93" height="5.3" rx="1" stroke="#000" stroke-width="1.86" fill="#fff"/>
<path d="M262.5,669.3L262.5,674.6" stroke="#000" stroke-width="1.4" fill="none" />
<path d="M275,669.3L275,674.6" stroke="#000" stroke-width="1.4" fill="none" />
<path d="M289.4,669.3L289.4,674.6" stroke="#000" stroke-width="1.4" fill="none" />
<path d="M310,669.3L310,674.6" stroke="#000" stroke-width="1.4" fill="none" />
<path d="M270.5,675L329.5,675L327.5,677.5L329.2,679.8L326,682L274,682L271.4,679.4L273,677.3Z" stroke="#000" stroke-width="0.5" fill="#000" stroke-linejoin="round"/>
<rect x="264.5" y="681.6" width="71" height="32" rx="0.8" stroke="#000" stroke-width="1.86" fill="#fff"/>
<rect x="246.7" y="714.2" width="106.6" height="6.4" rx="2.5" stroke="#000" stroke-width="1.86" fill="#fff"/>
<path d="M270.7,720.6L329.7,720.6L328.5,735L271.8,735Z" stroke="#000" stroke-width="1.86" fill="#fff" stroke-linejoin="round"/>
<rect x="271.7" y="735" width="56.9" height="3.7" rx="0" stroke="#000" stroke-width="1.67" fill="#fff"/>
<path d="M271.7,739L328.6,739Q331.2,741.25 328.6,743.5Q331.2,745.75 328.6,748L271.7,748Q269.1,745.75 271.7,743.5Q269.1,741.25 271.7,739Z" stroke="#000" stroke-width="0.6" fill="#000" />
<path d="M273.2,744.3Q285.93,744.2 300.15,743 T327.1,741.7" stroke="#d6d6d6" stroke-width="2.05" fill="none" />
<path d="M252.1,748.7L347.9,748.7Q349.4,748.7 349.4,750.2L349.4,757.3Q349.4,757.8 348.9,757.8L251.1,757.8Q250.6,757.8 250.6,757.3L250.6,750.2Q250.6,748.7 252.1,748.7Z" stroke="#000" stroke-width="1.86" fill="#fff" />
<path d="M261.5,757.8L338.5,757.8L330.8,766.2L269.2,766.2Z" stroke="#000" stroke-width="1.86" fill="#fff" stroke-linejoin="round"/>
<path d="M271.5,766.5L291,766.5Q293.6,769.08 291,771.65Q293.6,774.22 291,776.8L271.5,776.8Q268.9,774.22 271.5,771.65Q268.9,769.08 271.5,766.5Z" stroke="#000" stroke-width="0.6" fill="#000" />
<path d="M273,769.6Q276.38,769.5 281.25,769.3 T289.5,769" stroke="#d6d6d6" stroke-width="2.05" fill="none" />
<path d="M273,774.6Q276.38,774.5 281.25,774.3 T289.5,774" stroke="#d6d6d6" stroke-width="2.05" fill="none" />
<path d="M309,766.5L328.5,766.5Q331.1,769.08 328.5,771.65Q331.1,774.22 328.5,776.8L309,776.8Q306.4,774.22 309,771.65Q306.4,769.08 309,766.5Z" stroke="#000" stroke-width="0.6" fill="#000" />
<path d="M310.5,769.6Q313.88,769.5 318.75,769.3 T327,769" stroke="#d6d6d6" stroke-width="2.05" fill="none" />
<path d="M310.5,774.6Q313.88,774.5 318.75,774.3 T327,774" stroke="#d6d6d6" stroke-width="2.05" fill="none" />
<path d="M288,772L292.5,772" stroke="#000" stroke-width="2.05" fill="none" />
<path d="M307.5,772L312,772" stroke="#000" stroke-width="2.05" fill="none" />
<path d="M245.5,777.3L354.5,777.3Q355,777.3 355,777.8L355,783.7Q355,787.2 351.5,787.2L248.5,787.2Q245,787.2 245,783.7L245,777.8Q245,777.3 245.5,777.3Z" stroke="#000" stroke-width="1.86" fill="#fff" />
<path d="M247,783.2L353,783.2" stroke="#777" stroke-width="1.2" fill="none" />
<path d="M257,787.2L342.8,787.2L342.8,805.6Q342.8,807.8 340.6,807.8L259.2,807.8Q257,807.8 257,805.6L257,787.2Z" stroke="#000" stroke-width="1.86" fill="#fff" />
<path d="M276.7,788.4L276.7,806.8" stroke="#777" stroke-width="1.1" fill="none" />
<path d="M281.7,788.4L281.7,806.8" stroke="#777" stroke-width="1.1" fill="none" />
<path d="M318.5,788.4L318.5,806.8" stroke="#777" stroke-width="1.1" fill="none" />
<path d="M323.3,788.4L323.3,806.8" stroke="#777" stroke-width="1.1" fill="none" />
<path d="M271.5,808.6L328.7,808.6Q331.3,810.98 328.7,813.36Q331.3,815.74 328.7,818.12Q331.3,820.5 328.7,822.88Q331.3,825.26 328.7,827.64Q331.3,830.02 328.7,832.4L271.5,832.4Q268.9,830.02 271.5,827.64Q268.9,825.26 271.5,822.88Q268.9,820.5 271.5,818.12Q268.9,815.74 271.5,813.36Q268.9,810.98 271.5,808.6Z" stroke="#000" stroke-width="0.6" fill="#000" />
<path d="M273,812.7Q285.8,812.6 300.1,811.5 T327.2,810.3" stroke="#d6d6d6" stroke-width="2.05" fill="none" />
<path d="M273,817.7Q285.8,817.6 300.1,816.5 T327.2,815.3" stroke="#d6d6d6" stroke-width="2.05" fill="none" />
<path d="M273,822.7Q285.8,822.6 300.1,821.5 T327.2,820.3" stroke="#d6d6d6" stroke-width="2.05" fill="none" />
<path d="M273,827.7Q285.8,827.6 300.1,826.5 T327.2,825.3" stroke="#d6d6d6" stroke-width="2.05" fill="none" />
<path d="M273,832.7Q285.8,832.6 300.1,831.5 T327.2,830.3" stroke="#d6d6d6" stroke-width="2.05" fill="none" />
<rect x="274.3" y="832.3" width="51.4" height="5.9" rx="0.5" stroke="#000" stroke-width="1.58" fill="#fff"/>
<path d="M293,833.6C291,836 310,834.5 324,833.6" stroke="#000" stroke-width="1.4" fill="none" />
<rect x="296.7" y="838.2" width="7" height="18.8" rx="0" stroke="#000" stroke-width="1.49" fill="#fff"/>
<circle cx="300" cy="861.3" r="5.4" stroke="#000" stroke-width="1.58" fill="#fff"/>
<path d="M295.6,861.6A4.4,4.4 0 0 0 304.4,861.6Z" fill="#d0d0d0"/>
<path d="M295.4,860.8L304.6,860.8" stroke="#888" stroke-width="0.9" fill="none" />
<path d="M300.2,75L300.2,137M300.2,140.7L300.2,144.3M300.2,148L300.2,210M300.2,213.7L300.2,217.3M300.2,221L300.2,283M300.2,286.7L300.2,290.3M300.2,294L300.2,356M300.2,359.7L300.2,363.3M300.2,367L300.2,429M300.2,432.7L300.2,436.3M300.2,440L300.2,502M300.2,505.7L300.2,509.3M300.2,513L300.2,575M300.2,578.7L300.2,582.3M300.2,586L300.2,648M300.2,651.7L300.2,655.3M300.2,659L300.2,721M300.2,724.7L300.2,728.3M300.2,732L300.2,794M300.2,797.7L300.2,801.3M300.2,805L300.2,867M300.2,870.7L300.2,872.5" stroke="#9a9a9a" stroke-width="1.05" fill="none"/>
<path d="M224,407.8L376.5,407.8" stroke="#505050" stroke-width="1.1" fill="none" />
<path d="M223.3,407.8L237.3,405.5L235.1,407.8L237.3,410.1Z" fill="#111" stroke="none"/>
<path d="M377,407.8L363,410.1L365.2,407.8L363,405.5Z" fill="#111" stroke="none"/>
<g transform="translate(286.9,398.8)" fill="none" stroke="#111" stroke-width="1.6" stroke-linecap="round" stroke-linejoin="round">
<path transform="matrix(1,0,0.35,-0.94,0,-0.3)" d="M7.6,19L0.2,19L0.5,10.2L4.6,10.2C7.3,10.2 8.5,8.2 8.5,5.2C8.5,2 7,0 4.3,0L0,0"/>
<path transform="matrix(1,0,0.35,-0.94,12,-0.3)" d="M7.6,19L0.2,19L0.5,10.2L4.6,10.2C7.3,10.2 8.5,8.2 8.5,5.2C8.5,2 7,0 4.3,0L0,0"/>
</g>
<rect x="425.8" y="681.5" width="66.8" height="38.8" rx="0.5" stroke="#000" stroke-width="1.86" fill="#fff"/>
<path d="M425.8,717.8L492.6,717.8" stroke="#444" stroke-width="1.1" fill="none" />
<path d="M434.3,720.3L484.1,720.3L482,739.4L436.4,739.4Z" stroke="#000" stroke-width="1.67" fill="#fff" stroke-linejoin="round"/>
<path d="M436.4,739.4L482,739.4Q483.4,740.87 482,742.33Q483.4,743.8 482,745.27Q483.4,746.73 482,748.2L436.4,748.2Q435,746.73 436.4,745.27Q435,743.8 436.4,742.33Q435,740.87 436.4,739.4Z" stroke="#000" stroke-width="0.6" fill="#000" />
<path d="M437.9,742.2Q447.8,742.1 459.2,741.8 T480.5,741.4" stroke="#aaa" stroke-width="1.1" fill="none" />
<path d="M437.9,745.2Q447.8,745.1 459.2,744.8 T480.5,744.4" stroke="#aaa" stroke-width="1.1" fill="none" />
<path d="M415.5,748.7L502.9,748.7Q504.4,748.7 504.4,750.2L504.4,757.3Q504.4,757.8 503.9,757.8L414.5,757.8Q414,757.8 414,757.3L414,750.2Q414,748.7 415.5,748.7Z" stroke="#000" stroke-width="1.86" fill="#fff" />
<path d="M421,757.8L497.4,757.8L490.4,766.2L428,766.2Z" stroke="#000" stroke-width="1.86" fill="#fff" stroke-linejoin="round"/>
<path d="M436.4,766.2L482,766.2Q483.4,767.93 482,769.67Q483.4,771.4 482,773.13Q483.4,774.87 482,776.6L436.4,776.6Q435,774.87 436.4,773.13Q435,771.4 436.4,769.67Q435,767.93 436.4,766.2Z" stroke="#000" stroke-width="0.6" fill="#000" />
<path d="M437.9,768.8Q447.8,768.7 459.2,768.4 T480.5,768" stroke="#b4b4b4" stroke-width="1.25" fill="none" />
<path d="M437.9,772.2Q447.8,772.1 459.2,771.8 T480.5,771.4" stroke="#b4b4b4" stroke-width="1.25" fill="none" />
<path d="M437.9,775.6Q447.8,775.5 459.2,775.2 T480.5,774.8" stroke="#b4b4b4" stroke-width="1.25" fill="none" />
<path d="M414.5,777.3L503.9,777.3Q504.4,777.3 504.4,777.8L504.4,783.7Q504.4,787.2 500.9,787.2L417.5,787.2Q414,787.2 414,783.7L414,777.8Q414,777.3 414.5,777.3Z" stroke="#000" stroke-width="1.86" fill="#fff" />
<path d="M416,783.2L502.4,783.2" stroke="#777" stroke-width="1.2" fill="none" />
<path d="M428.2,786.6L489.8,786.6L489.8,802.7Q489.8,804.2 488.3,804.2L429.7,804.2Q428.2,804.2 428.2,802.7L428.2,786.6Z" stroke="#000" stroke-width="1.67" fill="#fff" />
<rect x="429.2" y="800.4" width="60" height="3" fill="#bdbdbd"/>
<path d="M429.6,787L434.4,803" stroke="#222" stroke-width="1.1" fill="none" />
<path d="M453.6,803L459.2,787L464.8,803" stroke="#222" stroke-width="1.1" fill="none" />
<path d="M488.4,787L484.2,803" stroke="#222" stroke-width="1.1" fill="none" />
<path d="M436,804.4L482.6,804.4Q484.4,806.51 482.6,808.63Q484.4,810.74 482.6,812.86Q484.4,814.97 482.6,817.09Q484.4,819.2 482.6,821.31Q484.4,823.43 482.6,825.54Q484.4,827.66 482.6,829.77Q484.4,831.89 482.6,834L436,834Q434.2,831.89 436,829.77Q434.2,827.66 436,825.54Q434.2,823.43 436,821.31Q434.2,819.2 436,817.09Q434.2,814.97 436,812.86Q434.2,810.74 436,808.63Q434.2,806.51 436,804.4Z" stroke="#000" stroke-width="0.6" fill="#000" />
<path d="M437.5,807.3Q447.65,807.2 459.3,806.6 T481.1,805.9" stroke="#b8b8b8" stroke-width="1.35" fill="none" />
<path d="M437.5,811.4Q447.65,811.3 459.3,810.7 T481.1,810" stroke="#b8b8b8" stroke-width="1.35" fill="none" />
<path d="M437.5,815.5Q447.65,815.4 459.3,814.8 T481.1,814.1" stroke="#b8b8b8" stroke-width="1.35" fill="none" />
<path d="M437.5,819.6Q447.65,819.5 459.3,818.9 T481.1,818.2" stroke="#b8b8b8" stroke-width="1.35" fill="none" />
<path d="M437.5,823.7Q447.65,823.6 459.3,823 T481.1,822.3" stroke="#b8b8b8" stroke-width="1.35" fill="none" />
<path d="M437.5,827.8Q447.65,827.7 459.3,827.1 T481.1,826.4" stroke="#b8b8b8" stroke-width="1.35" fill="none" />
<path d="M437.5,831.9Q447.65,831.8 459.3,831.2 T481.1,830.5" stroke="#b8b8b8" stroke-width="1.35" fill="none" />
<rect x="438.2" y="834" width="42" height="4.6" rx="0.3" stroke="#000" stroke-width="1.4" fill="#fff"/>
<rect x="455.5" y="838.6" width="7.5" height="17.9" rx="0" stroke="#000" stroke-width="1.49" fill="#fff"/>
<circle cx="459.2" cy="861" r="5.6" stroke="#000" stroke-width="1.58" fill="#fff"/>
<path d="M454.6,861.6A4.6,4.6 0 0 0 463.8,861.6Z" fill="#c8c8c8"/>
<path d="M425.8,663.5L425.8,681" stroke="#505050" stroke-width="1.1" fill="none" />
<path d="M492.6,663.5L492.6,681" stroke="#505050" stroke-width="1.1" fill="none" />
<path d="M426,669.6L492.5,669.6" stroke="#505050" stroke-width="1.1" fill="none" />
<path d="M426.1,669.6L440.1,667.3L437.9,669.6L440.1,671.9Z" fill="#111" stroke="none"/>
<path d="M492.3,669.6L478.3,671.9L480.5,669.6L478.3,667.3Z" fill="#111" stroke="none"/>
<g transform="translate(443.8,660.3)" fill="none" stroke="#111" stroke-width="1.6" stroke-linecap="round" stroke-linejoin="round">
<path transform="matrix(1,0,0.35,-0.94,0,-0.3)" d="M0,15.2C0.5,18 2.5,19 5,19C8.1,19 10.1,17.5 10.1,14.8C10.1,13 9.8,11.5 8.8,10.2L0,0L9.7,0"/>
<path transform="matrix(1,0,0.35,-0.94,13.7,-0.3)" d="M3.9,19L0.2,4.6L9.6,4.6M6.4,8.8L6.4,0"/>
</g>
<path d="M648.6,188L648.6,634Q648.6,636.3 651,636.3L741.2,636.3Q743.7,636.3 743.7,634L743.7,188" stroke="#000" stroke-width="1.86" fill="#fff" />
<path d="M649.5,634.2L743,634.2" stroke="#888" stroke-width="0.9" fill="none" />
<path d="M649,190L743.5,190" stroke="#555" stroke-width="1" fill="none" />
<rect x="743.7" y="231.8" width="7.1" height="5.6" rx="0.5" stroke="#000" stroke-width="1.49" fill="#e4e4e4"/>
<rect x="743.7" y="245.8" width="7.1" height="5.6" rx="0.5" stroke="#000" stroke-width="1.49" fill="#e4e4e4"/>
<rect x="743.7" y="259.8" width="7.1" height="5.6" rx="0.5" stroke="#000" stroke-width="1.49" fill="#e4e4e4"/>
<rect x="743.7" y="273.8" width="7.1" height="5.6" rx="0.5" stroke="#000" stroke-width="1.49" fill="#e4e4e4"/>
<rect x="743.7" y="287.8" width="7.1" height="5.6" rx="0.5" stroke="#000" stroke-width="1.49" fill="#e4e4e4"/>
<rect x="743.7" y="301.8" width="7.1" height="5.6" rx="0.5" stroke="#000" stroke-width="1.49" fill="#e4e4e4"/>
<rect x="743.7" y="315.8" width="7.1" height="5.6" rx="0.5" stroke="#000" stroke-width="1.49" fill="#e4e4e4"/>
<rect x="743.7" y="497.4" width="7.1" height="5.6" rx="0.5" stroke="#000" stroke-width="1.49" fill="#e4e4e4"/>
<rect x="743.7" y="511.4" width="7.1" height="5.6" rx="0.5" stroke="#000" stroke-width="1.49" fill="#e4e4e4"/>
<rect x="743.7" y="525.4" width="7.1" height="5.6" rx="0.5" stroke="#000" stroke-width="1.49" fill="#e4e4e4"/>
<rect x="743.7" y="539.4" width="7.1" height="5.6" rx="0.5" stroke="#000" stroke-width="1.49" fill="#e4e4e4"/>
<rect x="743.7" y="553.4" width="7.1" height="5.6" rx="0.5" stroke="#000" stroke-width="1.49" fill="#e4e4e4"/>
<rect x="743.7" y="567.4" width="7.1" height="5.6" rx="0.5" stroke="#000" stroke-width="1.49" fill="#e4e4e4"/>
<rect x="743.7" y="581.4" width="7.1" height="5.6" rx="0.5" stroke="#000" stroke-width="1.49" fill="#e4e4e4"/>
<rect x="743.7" y="595.4" width="7.1" height="5.6" rx="0.5" stroke="#000" stroke-width="1.49" fill="#e4e4e4"/>
<rect x="743.7" y="609.4" width="7.1" height="5.6" rx="0.5" stroke="#000" stroke-width="1.49" fill="#e4e4e4"/>
<rect x="743.7" y="623.4" width="7.1" height="5.6" rx="0.5" stroke="#000" stroke-width="1.49" fill="#e4e4e4"/>
<path d="M757.5,187.6Q758.5,191.4 762.5,191.4L774,191.4Q777,191.6 775.2,194L745,230.6" stroke="#000" stroke-width="1.67" fill="none" />
<path d="M798,100L829,99.2Q835.2,99.4 835.2,104.6Q835.2,110 829,110L798,108.7" stroke="#000" stroke-width="1.86" fill="#fff" />
<path d="M648.2,99Q648.6,96 652,96L700,96Q760,96.6 798,100L798,108.7Q760,111 722,111.2" stroke="#000" stroke-width="1.86" fill="#fff" />
<path d="M798,100.6L798,108.4" stroke="#888" stroke-width="0.9" fill="none" />
<path d="M703,99.4Q760,100.4 798,101" stroke="#555" stroke-width="1" fill="none" />
<path d="M643.2,135.8L643.2,101.4Q643.2,98.9 646,98.9L700,98.9Q711,99.5 716,109Q719,114 719.4,119Q720,124.5 725.5,126.6" stroke="#000" stroke-width="1.95" fill="#fff" />
<path d="M671,99L671,136" stroke="#000" stroke-width="1.86" fill="none" />
<path d="M702.6,100L702.6,136" stroke="#888" stroke-width="0.9" fill="none" />
<path d="M705.4,101L705.4,136" stroke="#888" stroke-width="0.9" fill="none" />
<circle cx="687.7" cy="111.7" r="4.6" stroke="#000" stroke-width="1.4" fill="#fff"/>
<path d="M683.6,111.7L691.8,111.7" stroke="#000" stroke-width="1.3" fill="none" />
<path d="M722.5,122.6L735,122.6Q738.6,123 739.4,126.8" stroke="#000" stroke-width="1.4" fill="none" />
<path d="M722,127L786,127Q788.4,127 788.4,129.4L788.4,165.8L768,165.8" stroke="#000" stroke-width="1.86" fill="#fff" />
<path d="M756.2,128L756.2,159" stroke="#888" stroke-width="0.9" fill="none" />
<path d="M762.2,128L762.2,159" stroke="#888" stroke-width="0.9" fill="none" />
<path d="M776.6,128L776.6,165" stroke="#888" stroke-width="0.9" fill="none" />
<path d="M729.5,128L729.5,141" stroke="#888" stroke-width="0.9" fill="none" />
<path d="M726.4,128L726.4,137" stroke="#888" stroke-width="0.9" fill="none" />
<path d="M756.2,158L758.6,160.6L768,160.6" stroke="#000" stroke-width="1.3" fill="none" />
<path d="M768,165.8L787,165.8L784.6,184Q784.2,187.8 780.4,187.8L771.6,187.8Q768,187.8 768,184Z" stroke="#000" stroke-width="1.77" fill="#fff" />
<path d="M769.5,168.6L785,168.6" stroke="#aaa" stroke-width="0.9" fill="none" />
<path d="M633.7,161L633.7,140.5Q633.7,136.6 637.6,136.6L716,136.6Q724,137 729.4,142" stroke="#000" stroke-width="1.86" fill="none" />
<path d="M635,141.5L727,141.5" stroke="#777" stroke-width="1" fill="none" />
<path d="M633.7,145.8L627.4,147Q622.2,147.8 622.2,153L622.2,176Q622.2,180 626,180L764,180Q767.2,180 767.2,176.5L767.2,165Q767.2,162.2 764,162.2L757,162.2" stroke="#000" stroke-width="1.86" fill="#fff" />
<path d="M625.4,149L625.4,162" stroke="#999" stroke-width="0.9" fill="none" />
<path d="M623.4,149L633.4,148.2" stroke="#aaa" stroke-width="0.9" fill="none" />
<path d="M622.6,162.2L757,162.2" stroke="#000" stroke-width="1.67" fill="none" />
<path d="M634.4,159.6L756,159.6" stroke="#aaa" stroke-width="1.2" fill="none" />
<path d="M631,162.2L631,179.5" stroke="#000" stroke-width="1.4" fill="none" />
<path d="M676.8,162.2L676.8,179.5" stroke="#000" stroke-width="1.4" fill="none" />
<path d="M714.8,162.2L714.8,179.5" stroke="#000" stroke-width="1.4" fill="none" />
<path d="M761.3,162.2L761.3,179.5" stroke="#000" stroke-width="1.4" fill="none" />
<path d="M625.2,163L625.2,178.5" stroke="#999" stroke-width="0.9" fill="none" />
<path d="M628,163L628,178.5" stroke="#999" stroke-width="0.9" fill="none" />
<path d="M678.6,163L678.6,178.5" stroke="#999" stroke-width="0.9" fill="none" />
<path d="M716.6,163L716.6,178.5" stroke="#999" stroke-width="0.9" fill="none" />
<path d="M757.4,163L757.4,178.5" stroke="#999" stroke-width="0.9" fill="none" />
<path d="M764,163L764,178.5" stroke="#999" stroke-width="0.9" fill="none" />
<path d="M642.2,176.5L642.2,150.5Q642.2,147.6 645,147.1L651,145.8Q653.8,145.4 653.8,148.2L653.8,161.5L650.8,161.5L650.8,176.5Q650.8,179.3 648,179.3L645,179.3Q642.2,179.3 642.2,176.5Z" stroke="#000" stroke-width="1.67" fill="#fff" />
<path d="M645.8,149L645.8,177.5" stroke="#bbb" stroke-width="1.49" fill="none" />
<path d="M648.4,148L648.4,177.5" stroke="#999" stroke-width="0.9" fill="none" />
<path d="M750,176.5L750,150.5Q750,147.6 747.2,147.1L741,145.8Q738.2,145.4 738.2,148.2L738.2,161.5L741.4,161.5L741.4,176.5Q741.4,179.3 744.2,179.3L747.2,179.3Q750,179.3 750,176.5Z" stroke="#000" stroke-width="1.67" fill="#fff" />
<path d="M746.4,149L746.4,177.5" stroke="#bbb" stroke-width="1.49" fill="none" />
<path d="M743.8,148L743.8,177.5" stroke="#999" stroke-width="0.9" fill="none" />
<rect x="692.4" y="145.2" width="7.8" height="34.4" rx="3.6" stroke="#000" stroke-width="1.67" fill="#fff"/>
<path d="M695,148L695,177.5" stroke="#999" stroke-width="1" fill="none" />
<path d="M697.6,148L697.6,177.5" stroke="#999" stroke-width="1" fill="none" />
<path d="M624.5,181L764.5,181" stroke="#000" stroke-width="1.86" fill="none" />
<path d="M628,182L628,183.5Q628,187.8 632.2,187.8L760.5,187.8Q764.6,187.8 764.6,183.5L764.6,182" stroke="#000" stroke-width="1.77" fill="#fff" />
<path d="M629.5,183.4L763.5,183.4" stroke="#999" stroke-width="0.8" fill="none" />
<circle cx="820.6" cy="105.8" r="9.8" stroke="#000" stroke-width="1.86" fill="#fff"/>
<path d="M798,100L829,99.2Q835.2,99.4 835.2,104.6Q835.2,110 829,110L798,108.7Z" stroke="#000" stroke-width="1.86" fill="#fff" />
<path d="M798,100.6L798,108.4" stroke="#888" stroke-width="0.9" fill="none" />
<path d="M814.6,112.4Q820.6,115 826.6,112.4" stroke="#aaa" stroke-width="0.9" fill="none" />
<path d="M807.6,92L807.6,81.6Q807.6,78.2 811,78.2L817.6,78.2L817.6,86.4L825.8,86.4L825.8,78.2L832.6,78.2Q836,78.2 836,81.6L836,92Q836,95.2 832.6,95.2L811,95.2Q807.6,95.2 807.6,92Z" stroke="#000" stroke-width="1.77" fill="#fff" />
<path d="M809,82.8L817,82.8" stroke="#999" stroke-width="0.9" fill="none" />
<path d="M826.4,82.8L834.6,82.8" stroke="#999" stroke-width="0.9" fill="none" />
<path d="M814.6,122.2L814.6,128.57" stroke="#222" stroke-width="1.2" fill="none" />
<path d="M817.6,122.2L817.6,128.57" stroke="#222" stroke-width="1.2" fill="none" />
<path d="M825.4,122.2L825.4,128.57" stroke="#222" stroke-width="1.2" fill="none" />
<path d="M828.4,122.2L828.4,128.57" stroke="#222" stroke-width="1.2" fill="none" />
<path d="M814.6,133.37L814.6,139.74" stroke="#222" stroke-width="1.2" fill="none" />
<path d="M817.6,133.37L817.6,139.74" stroke="#222" stroke-width="1.2" fill="none" />
<path d="M825.4,133.37L825.4,139.74" stroke="#222" stroke-width="1.2" fill="none" />
<path d="M828.4,133.37L828.4,139.74" stroke="#222" stroke-width="1.2" fill="none" />
<path d="M814.6,144.54L814.6,150.91" stroke="#222" stroke-width="1.2" fill="none" />
<path d="M817.6,144.54L817.6,150.91" stroke="#222" stroke-width="1.2" fill="none" />
<path d="M825.4,144.54L825.4,150.91" stroke="#222" stroke-width="1.2" fill="none" />
<path d="M828.4,144.54L828.4,150.91" stroke="#222" stroke-width="1.2" fill="none" />
<path d="M814.6,155.71L814.6,162.08" stroke="#222" stroke-width="1.2" fill="none" />
<path d="M817.6,155.71L817.6,162.08" stroke="#222" stroke-width="1.2" fill="none" />
<path d="M825.4,155.71L825.4,162.08" stroke="#222" stroke-width="1.2" fill="none" />
<path d="M828.4,155.71L828.4,162.08" stroke="#222" stroke-width="1.2" fill="none" />
<path d="M814.6,166.88L814.6,173.25" stroke="#222" stroke-width="1.2" fill="none" />
<path d="M817.6,166.88L817.6,173.25" stroke="#222" stroke-width="1.2" fill="none" />
<path d="M825.4,166.88L825.4,173.25" stroke="#222" stroke-width="1.2" fill="none" />
<path d="M828.4,166.88L828.4,173.25" stroke="#222" stroke-width="1.2" fill="none" />
<path d="M814.6,178.05L814.6,184.42" stroke="#222" stroke-width="1.2" fill="none" />
<path d="M817.6,178.05L817.6,184.42" stroke="#222" stroke-width="1.2" fill="none" />
<path d="M825.4,178.05L825.4,184.42" stroke="#222" stroke-width="1.2" fill="none" />
<path d="M828.4,178.05L828.4,184.42" stroke="#222" stroke-width="1.2" fill="none" />
<path d="M814.6,189.22L814.6,195.59" stroke="#222" stroke-width="1.2" fill="none" />
<path d="M817.6,189.22L817.6,195.59" stroke="#222" stroke-width="1.2" fill="none" />
<path d="M825.4,189.22L825.4,195.59" stroke="#222" stroke-width="1.2" fill="none" />
<path d="M828.4,189.22L828.4,195.59" stroke="#222" stroke-width="1.2" fill="none" />
<rect x="804.4" y="117.1" width="34.4" height="5.4" rx="2.7" stroke="#000" stroke-width="1.35" fill="#efefef"/>
<path d="M806.4,119.8L836.8,119.8" stroke="#a4a4a4" stroke-width="1.3" fill="none" />
<rect x="804.4" y="128.27" width="34.4" height="5.4" rx="2.7" stroke="#000" stroke-width="1.35" fill="#efefef"/>
<path d="M806.4,130.97L836.8,130.97" stroke="#a4a4a4" stroke-width="1.3" fill="none" />
<rect x="804.4" y="139.44" width="34.4" height="5.4" rx="2.7" stroke="#000" stroke-width="1.35" fill="#efefef"/>
<path d="M806.4,142.14L836.8,142.14" stroke="#a4a4a4" stroke-width="1.3" fill="none" />
<rect x="804.4" y="150.61" width="34.4" height="5.4" rx="2.7" stroke="#000" stroke-width="1.35" fill="#efefef"/>
<path d="M806.4,153.31L836.8,153.31" stroke="#a4a4a4" stroke-width="1.3" fill="none" />
<rect x="804.4" y="161.78" width="34.4" height="5.4" rx="2.7" stroke="#000" stroke-width="1.35" fill="#efefef"/>
<path d="M806.4,164.48L836.8,164.48" stroke="#a4a4a4" stroke-width="1.3" fill="none" />
<rect x="804.4" y="172.95" width="34.4" height="5.4" rx="2.7" stroke="#000" stroke-width="1.35" fill="#efefef"/>
<path d="M806.4,175.65L836.8,175.65" stroke="#a4a4a4" stroke-width="1.3" fill="none" />
<rect x="804.4" y="184.12" width="34.4" height="5.4" rx="2.7" stroke="#000" stroke-width="1.35" fill="#efefef"/>
<path d="M806.4,186.82L836.8,186.82" stroke="#a4a4a4" stroke-width="1.3" fill="none" />
<rect x="804.4" y="195.29" width="34.4" height="5.4" rx="2.7" stroke="#000" stroke-width="1.35" fill="#efefef"/>
<path d="M806.4,197.99L836.8,197.99" stroke="#a4a4a4" stroke-width="1.3" fill="none" />
<rect x="815.4" y="200.6" width="4" height="17" rx="0" stroke="#000" stroke-width="1.67" fill="#fff"/>
<rect x="824" y="200.6" width="4" height="17" rx="0" stroke="#000" stroke-width="1.67" fill="#fff"/>
<rect x="807.8" y="217.4" width="28" height="6" rx="1" stroke="#000" stroke-width="1.67" fill="#fff"/>
<rect x="815.2" y="223.6" width="13" height="90.8" rx="0" stroke="#000" stroke-width="1.58" fill="#fff"/>
<path d="M816,227.6L827.4,224.2L827.4,227L816,232.2Z" stroke="#000" stroke-width="1.4" fill="#bdbdbd" stroke-linejoin="round"/>
<path d="M816,241.6L827.4,236.4L827.4,241L816,246.2Z" stroke="#000" stroke-width="1.4" fill="#bdbdbd" stroke-linejoin="round"/>
<path d="M816,255.6L827.4,250.4L827.4,255L816,260.2Z" stroke="#000" stroke-width="1.4" fill="#bdbdbd" stroke-linejoin="round"/>
<path d="M816,269.6L827.4,264.4L827.4,269L816,274.2Z" stroke="#000" stroke-width="1.4" fill="#bdbdbd" stroke-linejoin="round"/>
<path d="M816,283.6L827.4,278.4L827.4,283L816,288.2Z" stroke="#000" stroke-width="1.4" fill="#bdbdbd" stroke-linejoin="round"/>
<path d="M816,297.6L827.4,292.4L827.4,297L816,302.2Z" stroke="#000" stroke-width="1.4" fill="#bdbdbd" stroke-linejoin="round"/>
<path d="M816,311.6L827.4,306.4L827.4,311L816,313.8Z" stroke="#000" stroke-width="1.4" fill="#bdbdbd" stroke-linejoin="round"/>
<path d="M793.8,330L793.8,317Q793.8,314.4 796.4,314.4L828.6,314.4Q830.8,314.4 831,317L832.4,330" stroke="#000" stroke-width="1.86" fill="#fff" />
<path d="M818.3,315.4L818.3,329.5" stroke="#888" stroke-width="0.9" fill="none" />
<path d="M750.8,497L813.2,497L813.2,517.6L750.8,517.6" stroke="#000" stroke-width="1.67" fill="#fff" />
<path d="M752,517.6L752,520Q752,522 754,522L807.5,522Q809.5,522 809.5,520L809.5,517.6" stroke="#000" stroke-width="1.4" fill="#fff" />
<path d="M754,520L807.5,520" stroke="#bbb" stroke-width="1.49" fill="none" />
<rect x="815.2" y="497" width="13" height="117" rx="0" stroke="#000" stroke-width="1.58" fill="#fff"/>
<path d="M816,509.8L827.4,504.6L827.4,509.2L816,514.4Z" stroke="#000" stroke-width="1.4" fill="#bdbdbd" stroke-linejoin="round"/>
<path d="M816,523.85L827.4,518.65L827.4,523.25L816,528.45Z" stroke="#000" stroke-width="1.4" fill="#bdbdbd" stroke-linejoin="round"/>
<path d="M816,537.9L827.4,532.7L827.4,537.3L816,542.5Z" stroke="#000" stroke-width="1.4" fill="#bdbdbd" stroke-linejoin="round"/>
<path d="M816,551.95L827.4,546.75L827.4,551.35L816,556.55Z" stroke="#000" stroke-width="1.4" fill="#bdbdbd" stroke-linejoin="round"/>
<path d="M816,566L827.4,560.8L827.4,565.4L816,570.6Z" stroke="#000" stroke-width="1.4" fill="#bdbdbd" stroke-linejoin="round"/>
<path d="M816,580.05L827.4,574.85L827.4,579.45L816,584.65Z" stroke="#000" stroke-width="1.4" fill="#bdbdbd" stroke-linejoin="round"/>
<path d="M816,594.1L827.4,588.9L827.4,593.5L816,598.7Z" stroke="#000" stroke-width="1.4" fill="#bdbdbd" stroke-linejoin="round"/>
<path d="M816,608.15L827.4,602.95L827.4,607.55L816,612.75Z" stroke="#000" stroke-width="1.4" fill="#bdbdbd" stroke-linejoin="round"/>
<path d="M815.2,612L815.2,628Q815.2,633.4 820,633.4L823.4,633.4Q828.2,633.4 828.2,628L828.2,612" stroke="#000" stroke-width="1.49" fill="#fff" />
<path d="M816.4,627L827,627" stroke="#999" stroke-width="0.9" fill="none" />
<path d="M639.6,329.8L711,329.8L711.6,413.4L641.2,413.4Z" stroke="#000" stroke-width="1.86" fill="#fff" />
<path d="M711,329.8L878,329.8L876.5,492Q876.4,497.2 871.2,497.2L718,497.2Q712.6,497.2 712.5,492Z" stroke="#000" stroke-width="1.86" fill="#fff" />
<path d="M713.8,331L714.8,493" stroke="#777" stroke-width="0.9" fill="none" />
<path d="M724.4,331L725,496.5" stroke="#505050" stroke-width="1.1" fill="none" />
<path d="M849.6,331L848.8,496.5" stroke="#505050" stroke-width="1.1" fill="none" />
<path d="M714,491.8L876,491.8" stroke="#505050" stroke-width="1.1" fill="none" />
<rect x="656" y="637" width="5" height="5.5" rx="0.5" stroke="#000" stroke-width="1.4" fill="#fff"/>
<rect x="657.7" y="642.5" width="3" height="7.5" rx="0" stroke="#000" stroke-width="1.2" fill="#bbb"/>
<rect x="656" y="650" width="5" height="5.5" rx="0.5" stroke="#000" stroke-width="1.4" fill="#fff"/>
<rect x="657.7" y="655.5" width="3" height="7.5" rx="0" stroke="#000" stroke-width="1.2" fill="#bbb"/>
<path d="M657.9,663L657.9,669" stroke="#000" stroke-width="1.49" fill="none" />
<path d="M730.6,637L730.6,662" stroke="#777" stroke-width="1" fill="none" />
<path d="M732.9,637L732.9,669" stroke="#222" stroke-width="1.3" fill="none" />
<path d="M736.3,637L736.3,643L734.9,644.5L734.9,650L736.3,651.5L736.3,657L734.9,658.5L734.9,668.5" stroke="#000" stroke-width="1.4" fill="none" />
<path d="M679.3,636L679.3,663" stroke="#000" stroke-width="1.86" fill="none" />
<path d="M728.8,636L728.8,663" stroke="#000" stroke-width="1.86" fill="none" />
<path d="M660.3,662.7L729.8,662.7" stroke="#000" stroke-width="1.86" fill="none" />
<path d="M684.3,643L684.3,663" stroke="#000" stroke-width="2.05" fill="none" />
<path d="M684.3,644L699.3,644A3.6,3.6 0 0 0 699.3,636.8" stroke="#000" stroke-width="2.05" fill="none" />
<path d="M684.3,649.6L699.7,649.6A3.2,3.2 0 0 1 699.7,656L684.3,656" stroke="#000" stroke-width="2.05" fill="none" />
<path d="M658.3,664L672.3,664L669.8,668.6L658.3,668.6Z" stroke="#000" stroke-width="1.4" fill="#fff" stroke-linejoin="round"/>
<path d="M675.8,664L714.3,664L716.3,668.6L673.8,668.6Z" stroke="#000" stroke-width="1.4" fill="#fff" stroke-linejoin="round"/>
<rect x="690.8" y="664.6" width="22.5" height="2" rx="0" stroke="#000" stroke-width="0" fill="#a8a8a8"/>
<path d="M679.3,663L679.3,668.6" stroke="#000" stroke-width="1.49" fill="none" />
<path d="M682.9,663L682.9,668.6" stroke="#000" stroke-width="1.49" fill="none" />
<path d="M687.3,663L687.3,668.6" stroke="#000" stroke-width="1.49" fill="none" />
<path d="M718.3,664L732.8,664L732.8,668.6L718.3,668.6Z" stroke="#000" stroke-width="1.4" fill="#fff" stroke-linejoin="round"/>
<rect x="649.8" y="669.3" width="93" height="5.3" rx="1" stroke="#000" stroke-width="1.86" fill="#fff"/>
<path d="M724,669.3L724,674.6" stroke="#000" stroke-width="1.4" fill="none" />
<path d="M728,669.3L728,674.6" stroke="#000" stroke-width="1.4" fill="none" />
<path d="M735.3,669.3L735.3,674.6" stroke="#000" stroke-width="1.4" fill="none" />
<path d="M666.8,675L725.8,675L723.8,677.5L725.5,679.8L722.3,682L670.3,682L667.7,679.4L669.3,677.3Z" stroke="#000" stroke-width="0.5" fill="#000" stroke-linejoin="round"/>
<path d="M676.3,679.6L692.3,679.2M698.3,679L708.3,679.8" stroke="#bbb" stroke-width="1" fill="none" />
<rect x="660.8" y="681.6" width="71" height="32" rx="0.8" stroke="#000" stroke-width="1.86" fill="#fff"/>
<rect x="643" y="714.2" width="106.6" height="6.4" rx="2.5" stroke="#000" stroke-width="1.86" fill="#fff"/>
<path d="M667,720.6L726,720.6L724.8,735L668.1,735Z" stroke="#000" stroke-width="1.86" fill="#fff" stroke-linejoin="round"/>
<rect x="668" y="735" width="56.9" height="3.7" rx="0" stroke="#000" stroke-width="1.67" fill="#fff"/>
<path d="M668,739L724.9,739Q727.5,741.25 724.9,743.5Q727.5,745.75 724.9,748L668,748Q665.4,745.75 668,743.5Q665.4,741.25 668,739Z" stroke="#000" stroke-width="0.6" fill="#000" />
<path d="M669.5,744.3Q682.23,744.2 696.45,743 T723.4,741.7" stroke="#d6d6d6" stroke-width="2.05" fill="none" />
<path d="M648.4,748.7L744.2,748.7Q745.7,748.7 745.7,750.2L745.7,757.3Q745.7,757.8 745.2,757.8L647.4,757.8Q646.9,757.8 646.9,757.3L646.9,750.2Q646.9,748.7 648.4,748.7Z" stroke="#000" stroke-width="1.86" fill="#fff" />
<path d="M657.8,757.8L734.8,757.8L727.1,766.2L665.5,766.2Z" stroke="#000" stroke-width="1.86" fill="#fff" stroke-linejoin="round"/>
<path d="M672.3,766.5L720.3,766.5Q721.1,769.08 720.3,771.65Q721.1,774.22 720.3,776.8L672.3,776.8Q671.5,774.22 672.3,771.65Q671.5,769.08 672.3,766.5Z" stroke="#000" stroke-width="0.6" fill="#000" />
<path d="M673.8,769.7Q684.3,769.6 696.3,769.3 T718.8,768.9" stroke="#d6d6d6" stroke-width="2.05" fill="none" />
<path d="M673.8,774.7Q684.3,774.6 696.3,774.3 T718.8,773.9" stroke="#d6d6d6" stroke-width="2.05" fill="none" />
<path d="M641.8,777.3L750.8,777.3Q751.3,777.3 751.3,777.8L751.3,783.7Q751.3,787.2 747.8,787.2L644.8,787.2Q641.3,787.2 641.3,783.7L641.3,777.8Q641.3,777.3 641.8,777.3Z" stroke="#000" stroke-width="1.86" fill="#fff" />
<path d="M643.3,783.2L749.3,783.2" stroke="#777" stroke-width="1.2" fill="none" />
<path d="M658.4,787.2L734,787.2L734,805.6Q734,807.8 731.8,807.8L660.6,807.8Q658.4,807.8 658.4,805.6L658.4,787.2Z" stroke="#000" stroke-width="1.86" fill="#fff" />
<path d="M661.3,788.4L661.3,806.4" stroke="#999" stroke-width="1" fill="none" />
<path d="M731.3,788.4L731.3,806.4" stroke="#999" stroke-width="1" fill="none" />
<path d="M694,788.4L694,806.8" stroke="#666" stroke-width="1.1" fill="none" />
<path d="M698.7,788.4L698.7,806.8" stroke="#666" stroke-width="1.1" fill="none" />
<path d="M667.8,808.6L725,808.6Q727.6,810.98 725,813.36Q727.6,815.74 725,818.12Q727.6,820.5 725,822.88Q727.6,825.26 725,827.64Q727.6,830.02 725,832.4L667.8,832.4Q665.2,830.02 667.8,827.64Q665.2,825.26 667.8,822.88Q665.2,820.5 667.8,818.12Q665.2,815.74 667.8,813.36Q665.2,810.98 667.8,808.6Z" stroke="#000" stroke-width="0.6" fill="#000" />
<path d="M669.3,812.7Q682.1,812.6 696.4,811.5 T723.5,810.3" stroke="#d6d6d6" stroke-width="2.05" fill="none" />
<path d="M669.3,817.7Q682.1,817.6 696.4,816.5 T723.5,815.3" stroke="#d6d6d6" stroke-width="2.05" fill="none" />
<path d="M669.3,822.7Q682.1,822.6 696.4,821.5 T723.5,820.3" stroke="#d6d6d6" stroke-width="2.05" fill="none" />
<path d="M669.3,827.7Q682.1,827.6 696.4,826.5 T723.5,825.3" stroke="#d6d6d6" stroke-width="2.05" fill="none" />
<path d="M669.3,832.7Q682.1,832.6 696.4,831.5 T723.5,830.3" stroke="#d6d6d6" stroke-width="2.05" fill="none" />
<rect x="670.6" y="832.3" width="51.4" height="5.9" rx="0.5" stroke="#000" stroke-width="1.58" fill="#fff"/>
<path d="M689.3,833.6C687.3,836 706.3,834.5 720.3,833.6" stroke="#000" stroke-width="1.4" fill="none" />
<rect x="693" y="838.2" width="7" height="18.8" rx="0" stroke="#000" stroke-width="1.49" fill="#fff"/>
<circle cx="696.3" cy="861.3" r="5.4" stroke="#000" stroke-width="1.58" fill="#fff"/>
<path d="M691.9,861.6A4.4,4.4 0 0 0 700.7,861.6Z" fill="#d0d0d0"/>
<path d="M691.7,860.8L700.9,860.8" stroke="#888" stroke-width="0.9" fill="none" />
<path d="M696.3,90L696.3,147.1M696.3,150.8L696.3,154.4M696.3,158.1L696.3,220.1M696.3,223.8L696.3,227.4M696.3,231.1L696.3,293.1M696.3,296.8L696.3,300.4M696.3,304.1L696.3,366.1M696.3,369.8L696.3,373.4M696.3,377.1L696.3,439.1M696.3,442.8L696.3,446.4M696.3,450.1L696.3,512.1M696.3,515.8L696.3,519.4M696.3,523.1L696.3,585.1M696.3,588.8L696.3,592.4M696.3,596.1L696.3,658.1M696.3,661.8L696.3,665.4M696.3,669.1L696.3,731.1M696.3,734.8L696.3,738.4M696.3,742.1L696.3,804.1M696.3,807.8L696.3,811.4M696.3,815.1L696.3,872.5" stroke="#9a9a9a" stroke-width="1.05" fill="none"/>
<path d="M622,42.5L622,147" stroke="#505050" stroke-width="1.1" fill="none" />
<path d="M877.6,42.5L877.6,329" stroke="#505050" stroke-width="1.1" fill="none" />
<path d="M622,48.3L877.6,48.3" stroke="#505050" stroke-width="1.1" fill="none" />
<path d="M622.2,48.3L636.2,46L634,48.3L636.2,50.6Z" fill="#111" stroke="none"/>
<path d="M877.4,48.3L863.4,50.6L865.6,48.3L863.4,46Z" fill="#111" stroke="none"/>
<g transform="translate(728.4,39.6)" fill="none" stroke="#111" stroke-width="1.6" stroke-linecap="round" stroke-linejoin="round">
<path transform="matrix(1,0,0.35,-0.94,0,-0.3)" d="M10.4,13.5C10.4,9.8 7.8,8.7 5,8.7C1.6,8.7 0,10.6 0,13.6C0,17 2.2,19 5.5,19C8.8,19 10.4,17 10.4,13.5C10.8,7 9,2.5 3,0"/>
<path transform="matrix(1,0,0.35,-0.94,12.8,-0.3)" d="M0,14L5.3,19L5.3,0"/>
<path transform="matrix(1,0,0.35,-0.94,21.6,-0.3)" d="M1.5,0.6L0,-3"/>
<path transform="matrix(1,0,0.35,-0.94,27.2,-0.3)" d="M7.6,19L0.2,19L0.5,10.2L4.6,10.2C7.3,10.2 8.5,8.2 8.5,5.2C8.5,2 7,0 4.3,0L0,0"/>
</g>
<path d="M640,413.4L640,468.4" stroke="#505050" stroke-width="1.1" fill="none" />
<path d="M639.7,462.8L876.5,462.8" stroke="#505050" stroke-width="1.1" fill="none" />
<path d="M639.8,462.8L653.8,460.5L651.6,462.8L653.8,465.1Z" fill="#111" stroke="none"/>
<path d="M876.6,462.8L862.6,465.1L864.8,462.8L862.6,460.5Z" fill="#111" stroke="none"/>
<g transform="translate(744.2,453.6)" fill="none" stroke="#111" stroke-width="1.6" stroke-linecap="round" stroke-linejoin="round">
<path transform="matrix(1,0,0.35,-0.94,0,-0.3)" d="M5.2,9.6C2.4,9.6 0.8,11.6 0.8,14.3C0.8,17 2.6,19 5.2,19C7.8,19 9.6,17 9.6,14.3C9.6,11.6 8,9.6 5.2,9.6C2,9.6 0,7.5 0,4.8C0,2 2,0 5,0C8,0 10,2 10,4.8C10,7.5 8,9.6 5.2,9.6"/>
<path transform="matrix(1,0,0.35,-0.94,14,-0.3)" d="M7.6,19L0.2,19L0.5,10.2L4.6,10.2C7.3,10.2 8.5,8.2 8.5,5.2C8.5,2 7,0 4.3,0L0,0"/>
</g>
<path d="M836,78L977.5,78" stroke="#505050" stroke-width="1.1" fill="none" />
<path d="M724.5,837.8L977.5,837.8" stroke="#505050" stroke-width="1.1" fill="none" />
<path d="M972,78L972,837.8" stroke="#505050" stroke-width="1.1" fill="none" />
<path d="M972,78.2L974.3,92.2L972,90L969.7,92.2Z" fill="#111" stroke="none"/>
<path d="M972,837.6L969.7,823.6L972,825.8L974.3,823.6Z" fill="#111" stroke="none"/>
<g transform="translate(962.8,513.2) rotate(-90)" fill="none" stroke="#111" stroke-width="1.6" stroke-linecap="round" stroke-linejoin="round">
<path transform="matrix(1,0,0.35,-0.94,0,-0.3)" d="M0,0L0,12.6M0,10.6C0,12 0.8,12.6 2,12.6L4.2,12.6C5.6,12.6 6.2,12 6.2,10.6L6.2,0M6.2,10.6C6.2,12 7,12.6 8.2,12.6L10.4,12.6C11.8,12.6 12.4,12 12.4,10.6L12.4,0"/>
<path transform="matrix(1,0,0.35,-0.94,16.7,-0.3)" d="M0,0L0,12.6M0,17.2L0,18"/>
<path transform="matrix(1,0,0.35,-0.94,21.3,-0.3)" d="M0,0L0,12.6M0,10.6C0,12 0.8,12.6 2,12.6L6.2,12.6C7.6,12.6 8.2,12 8.2,10.6L8.2,0"/>
<path transform="matrix(1,0,0.35,-0.94,42,-0.3)" d="M0,15.2C0.5,18 2.5,19 5,19C8.1,19 10.1,17.5 10.1,14.8C10.1,13 9.8,11.5 8.8,10.2L0,0L9.7,0"/>
<path transform="matrix(1,0,0.35,-0.94,56.2,-0.3)" d="M5.2,9.6C2.4,9.6 0.8,11.6 0.8,14.3C0.8,17 2.6,19 5.2,19C7.8,19 9.6,17 9.6,14.3C9.6,11.6 8,9.6 5.2,9.6C2,9.6 0,7.5 0,4.8C0,2 2,0 5,0C8,0 10,2 10,4.8C10,7.5 8,9.6 5.2,9.6"/>
<path transform="matrix(1,0,0.35,-0.94,70,-0.3)" d="M0,15.2C0.5,18 2.5,19 5,19C8.1,19 10.1,17.5 10.1,14.8C10.1,13 9.8,11.5 8.8,10.2L0,0L9.7,0"/>
<path transform="matrix(1,0,0.35,-0.94,93.3,-0.3)" d="M0,6.8L10,6.8"/>
<path transform="matrix(1,0,0.35,-0.94,112,-0.3)" d="M0,0L0,12.6M0,10.6C0,12 0.8,12.6 2,12.6L4.2,12.6C5.6,12.6 6.2,12 6.2,10.6L6.2,0M6.2,10.6C6.2,12 7,12.6 8.2,12.6L10.4,12.6C11.8,12.6 12.4,12 12.4,10.6L12.4,0"/>
<path transform="matrix(1,0,0.35,-0.94,129.6,-0.3)" d="M8.4,0L8.4,12.6M8.4,10.8C8.4,12 7.6,12.6 6.4,12.6L2,12.6C0.8,12.6 0,12 0,10.6L0,2C0,0.8 0.8,0 2,0L6.4,0C7.6,0 8.4,0.8 8.4,2"/>
<path transform="matrix(1,0,0.35,-0.94,140.4,-0.3)" d="M0,0L9.2,12.6M1,12.6L8.4,0"/>
<path transform="matrix(1,0,0.35,-0.94,160.5,-0.3)" d="M0.3,19L5.6,19C7.6,19 8.3,17.6 8,15.6L7.4,12.2C7,10.6 5.9,10 4.4,10C7.1,10 9.1,9.3 9,6.8L8.7,3C8.5,1 7.3,0 5.3,0L0,0"/>
<path transform="matrix(1,0,0.35,-0.94,172.8,-0.3)" d="M0,17.2L0,19L10.4,19L5.1,0"/>
<path transform="matrix(1,0,0.35,-0.94,186.6,-0.3)" d="M0,15.2C0.5,18 2.5,19 5,19C8.1,19 10.1,17.5 10.1,14.8C10.1,13 9.8,11.5 8.8,10.2L0,0L9.7,0"/>
</g>
<path d="M667.5,832L667.5,881.5" stroke="#505050" stroke-width="1.1" fill="none" />
<path d="M724.5,832L724.5,881.5" stroke="#505050" stroke-width="1.1" fill="none" />
<path d="M572.8,875.6L724.5,875.6" stroke="#505050" stroke-width="1.1" fill="none" />
<path d="M667.7,875.6L681.7,873.3L679.5,875.6L681.7,877.9Z" fill="#111" stroke="none"/>
<path d="M724.3,875.6L710.3,877.9L712.5,875.6L710.3,873.3Z" fill="#111" stroke="none"/>
<g transform="translate(581.6,867.1)" fill="none" stroke="#111" stroke-width="1.6" stroke-linecap="round" stroke-linejoin="round">
<path transform="matrix(1,0,0.35,-0.94,0,-0.3)" d="M8.6,19L3.5,19C1.5,19 0.6,18 0.5,16L0,3C0,1 1,0 3,0L7.5,0C8.6,0 9,-0.3 9,0.6L9,9.8L4.4,9.8"/>
<path transform="matrix(1,0,0.35,-0.94,21,-0.3)" d="M0,14L5.3,19L5.3,0"/>
<path transform="matrix(1,0,0.35,-0.94,30.4,-0.3)" d="M0,-3L13.6,21.5"/>
<path transform="matrix(1,0,0.35,-0.94,46.9,-0.3)" d="M0,15.2C0.5,18 2.5,19 5,19C8.1,19 10.1,17.5 10.1,14.8C10.1,13 9.8,11.5 8.8,10.2L0,0L9.7,0"/>
</g>
<path d="M844.6,681.4L920.8,681.4Q921.8,681.4 921.8,682.4L921.8,718Q921.8,720 919.8,720L845.6,720Q843.6,720 843.6,718L843.6,682.4Q843.6,681.4 844.6,681.4Z" stroke="#000" stroke-width="1.86" fill="#fff" />
<path d="M862.2,682L862.2,718" stroke="#111" stroke-width="1.58" fill="none" />
<path d="M902.8,682L902.8,718" stroke="#111" stroke-width="1.58" fill="none" />
<path d="M863.3,717.5L866.2,719.8" stroke="#000" stroke-width="1.2" fill="none" />
<path d="M902.1,717.5L899.2,719.8" stroke="#000" stroke-width="1.2" fill="none" />
<path d="M843.7,717.6L861.7,717.6" stroke="#666" stroke-width="1" fill="none" />
<path d="M903.7,717.6L921.7,717.6" stroke="#666" stroke-width="1" fill="none" />
<path d="M858.1,720.3L907.3,720.3L905.4,739.4L860,739.4Z" stroke="#000" stroke-width="1.67" fill="#fff" stroke-linejoin="round"/>
<path d="M860,739.4L905.4,739.4Q906.8,740.87 905.4,742.33Q906.8,743.8 905.4,745.27Q906.8,746.73 905.4,748.2L860,748.2Q858.6,746.73 860,745.27Q858.6,743.8 860,742.33Q858.6,740.87 860,739.4Z" stroke="#000" stroke-width="0.6" fill="#000" />
<path d="M861.5,742.2Q871.35,742.1 882.7,741.8 T903.9,741.4" stroke="#aaa" stroke-width="1.1" fill="none" />
<path d="M861.5,745.2Q871.35,745.1 882.7,744.8 T903.9,744.4" stroke="#aaa" stroke-width="1.1" fill="none" />
<path d="M839,748.7L926.4,748.7Q927.9,748.7 927.9,750.2L927.9,757.3Q927.9,757.8 927.4,757.8L838,757.8Q837.5,757.8 837.5,757.3L837.5,750.2Q837.5,748.7 839,748.7Z" stroke="#000" stroke-width="1.86" fill="#fff" />
<path d="M844.5,757.8L920.9,757.8L913.9,766.2L851.5,766.2Z" stroke="#000" stroke-width="1.86" fill="#fff" stroke-linejoin="round"/>
<path d="M859.9,766.2L905.5,766.2Q906.9,767.93 905.5,769.67Q906.9,771.4 905.5,773.13Q906.9,774.87 905.5,776.6L859.9,776.6Q858.5,774.87 859.9,773.13Q858.5,771.4 859.9,769.67Q858.5,767.93 859.9,766.2Z" stroke="#000" stroke-width="0.6" fill="#000" />
<path d="M861.4,768.8Q871.3,768.7 882.7,768.4 T904,768" stroke="#b4b4b4" stroke-width="1.25" fill="none" />
<path d="M861.4,772.2Q871.3,772.1 882.7,771.8 T904,771.4" stroke="#b4b4b4" stroke-width="1.25" fill="none" />
<path d="M861.4,775.6Q871.3,775.5 882.7,775.2 T904,774.8" stroke="#b4b4b4" stroke-width="1.25" fill="none" />
<path d="M838,777.3L927.4,777.3Q927.9,777.3 927.9,777.8L927.9,783.7Q927.9,787.2 924.4,787.2L841,787.2Q837.5,787.2 837.5,783.7L837.5,777.8Q837.5,777.3 838,777.3Z" stroke="#000" stroke-width="1.86" fill="#fff" />
<path d="M839.5,783.2L925.9,783.2" stroke="#777" stroke-width="1.2" fill="none" />
<path d="M847.9,786.6L917.7,786.6L915.9,802.6Q915.7,804.2 914.1,804.2L851.7,804.2Q850.1,804.2 849.9,802.6Z" stroke="#000" stroke-width="1.67" fill="#fff" />
<rect x="851.1" y="800.4" width="63.6" height="3" fill="#bdbdbd"/>
<path d="M862.2,803L864.3,787L871.2,803" stroke="#222" stroke-width="1.1" fill="none" />
<path d="M894.7,803L901.7,787L903.7,803" stroke="#222" stroke-width="1.1" fill="none" />
<path d="M859.5,804.4L906.1,804.4Q907.9,806.51 906.1,808.63Q907.9,810.74 906.1,812.86Q907.9,814.97 906.1,817.09Q907.9,819.2 906.1,821.31Q907.9,823.43 906.1,825.54Q907.9,827.66 906.1,829.77Q907.9,831.89 906.1,834L859.5,834Q857.7,831.89 859.5,829.77Q857.7,827.66 859.5,825.54Q857.7,823.43 859.5,821.31Q857.7,819.2 859.5,817.09Q857.7,814.97 859.5,812.86Q857.7,810.74 859.5,808.63Q857.7,806.51 859.5,804.4Z" stroke="#000" stroke-width="0.6" fill="#000" />
<path d="M861,807.3Q871.15,807.2 882.8,806.6 T904.6,805.9" stroke="#b8b8b8" stroke-width="1.35" fill="none" />
<path d="M861,811.4Q871.15,811.3 882.8,810.7 T904.6,810" stroke="#b8b8b8" stroke-width="1.35" fill="none" />
<path d="M861,815.5Q871.15,815.4 882.8,814.8 T904.6,814.1" stroke="#b8b8b8" stroke-width="1.35" fill="none" />
<path d="M861,819.6Q871.15,819.5 882.8,818.9 T904.6,818.2" stroke="#b8b8b8" stroke-width="1.35" fill="none" />
<path d="M861,823.7Q871.15,823.6 882.8,823 T904.6,822.3" stroke="#b8b8b8" stroke-width="1.35" fill="none" />
<path d="M861,827.8Q871.15,827.7 882.8,827.1 T904.6,826.4" stroke="#b8b8b8" stroke-width="1.35" fill="none" />
<path d="M861,831.9Q871.15,831.8 882.8,831.2 T904.6,830.5" stroke="#b8b8b8" stroke-width="1.35" fill="none" />
<rect x="861.7" y="834" width="42" height="4.6" rx="0.3" stroke="#000" stroke-width="1.4" fill="#fff"/>
<rect x="879" y="838.6" width="7.5" height="17.9" rx="0" stroke="#000" stroke-width="1.49" fill="#fff"/>
<circle cx="882.7" cy="861" r="5.6" stroke="#000" stroke-width="1.58" fill="#fff"/>
<path d="M878.1,861.6A4.6,4.6 0 0 0 887.3,861.6Z" fill="#c8c8c8"/>
<path d="M859.5,838L859.5,881.5" stroke="#505050" stroke-width="1.1" fill="none" />
<path d="M905.9,838L905.9,881.5" stroke="#505050" stroke-width="1.1" fill="none" />
<path d="M761.5,875.6L905.9,875.6" stroke="#505050" stroke-width="1.1" fill="none" />
<path d="M859.7,875.6L873.7,873.3L871.5,875.6L873.7,877.9Z" fill="#111" stroke="none"/>
<path d="M905.7,875.6L891.7,877.9L893.9,875.6L891.7,873.3Z" fill="#111" stroke="none"/>
<g transform="translate(770.6,867)" fill="none" stroke="#111" stroke-width="1.6" stroke-linecap="round" stroke-linejoin="round">
<path transform="matrix(1,0,0.35,-0.94,0,-0.3)" d="M8.6,19L3.5,19C1.5,19 0.6,18 0.5,16L0,3C0,1 1,0 3,0L7.5,0C8.6,0 9,-0.3 9,0.6L9,9.8L4.4,9.8"/>
<path transform="matrix(1,0,0.35,-0.94,21.8,-0.3)" d="M0.3,19L5.6,19C7.6,19 8.3,17.6 8,15.6L7.4,12.2C7,10.6 5.9,10 4.4,10C7.1,10 9.1,9.3 9,6.8L8.7,3C8.5,1 7.3,0 5.3,0L0,0"/>
<path transform="matrix(1,0,0.35,-0.94,33.7,-0.3)" d="M0,-3L13.6,21.5"/>
<path transform="matrix(1,0,0.35,-0.94,50,-0.3)" d="M5.2,9.6C2.4,9.6 0.8,11.6 0.8,14.3C0.8,17 2.6,19 5.2,19C7.8,19 9.6,17 9.6,14.3C9.6,11.6 8,9.6 5.2,9.6C2,9.6 0,7.5 0,4.8C0,2 2,0 5,0C8,0 10,2 10,4.8C10,7.5 8,9.6 5.2,9.6"/>
</g>
</svg>
</body></html>
